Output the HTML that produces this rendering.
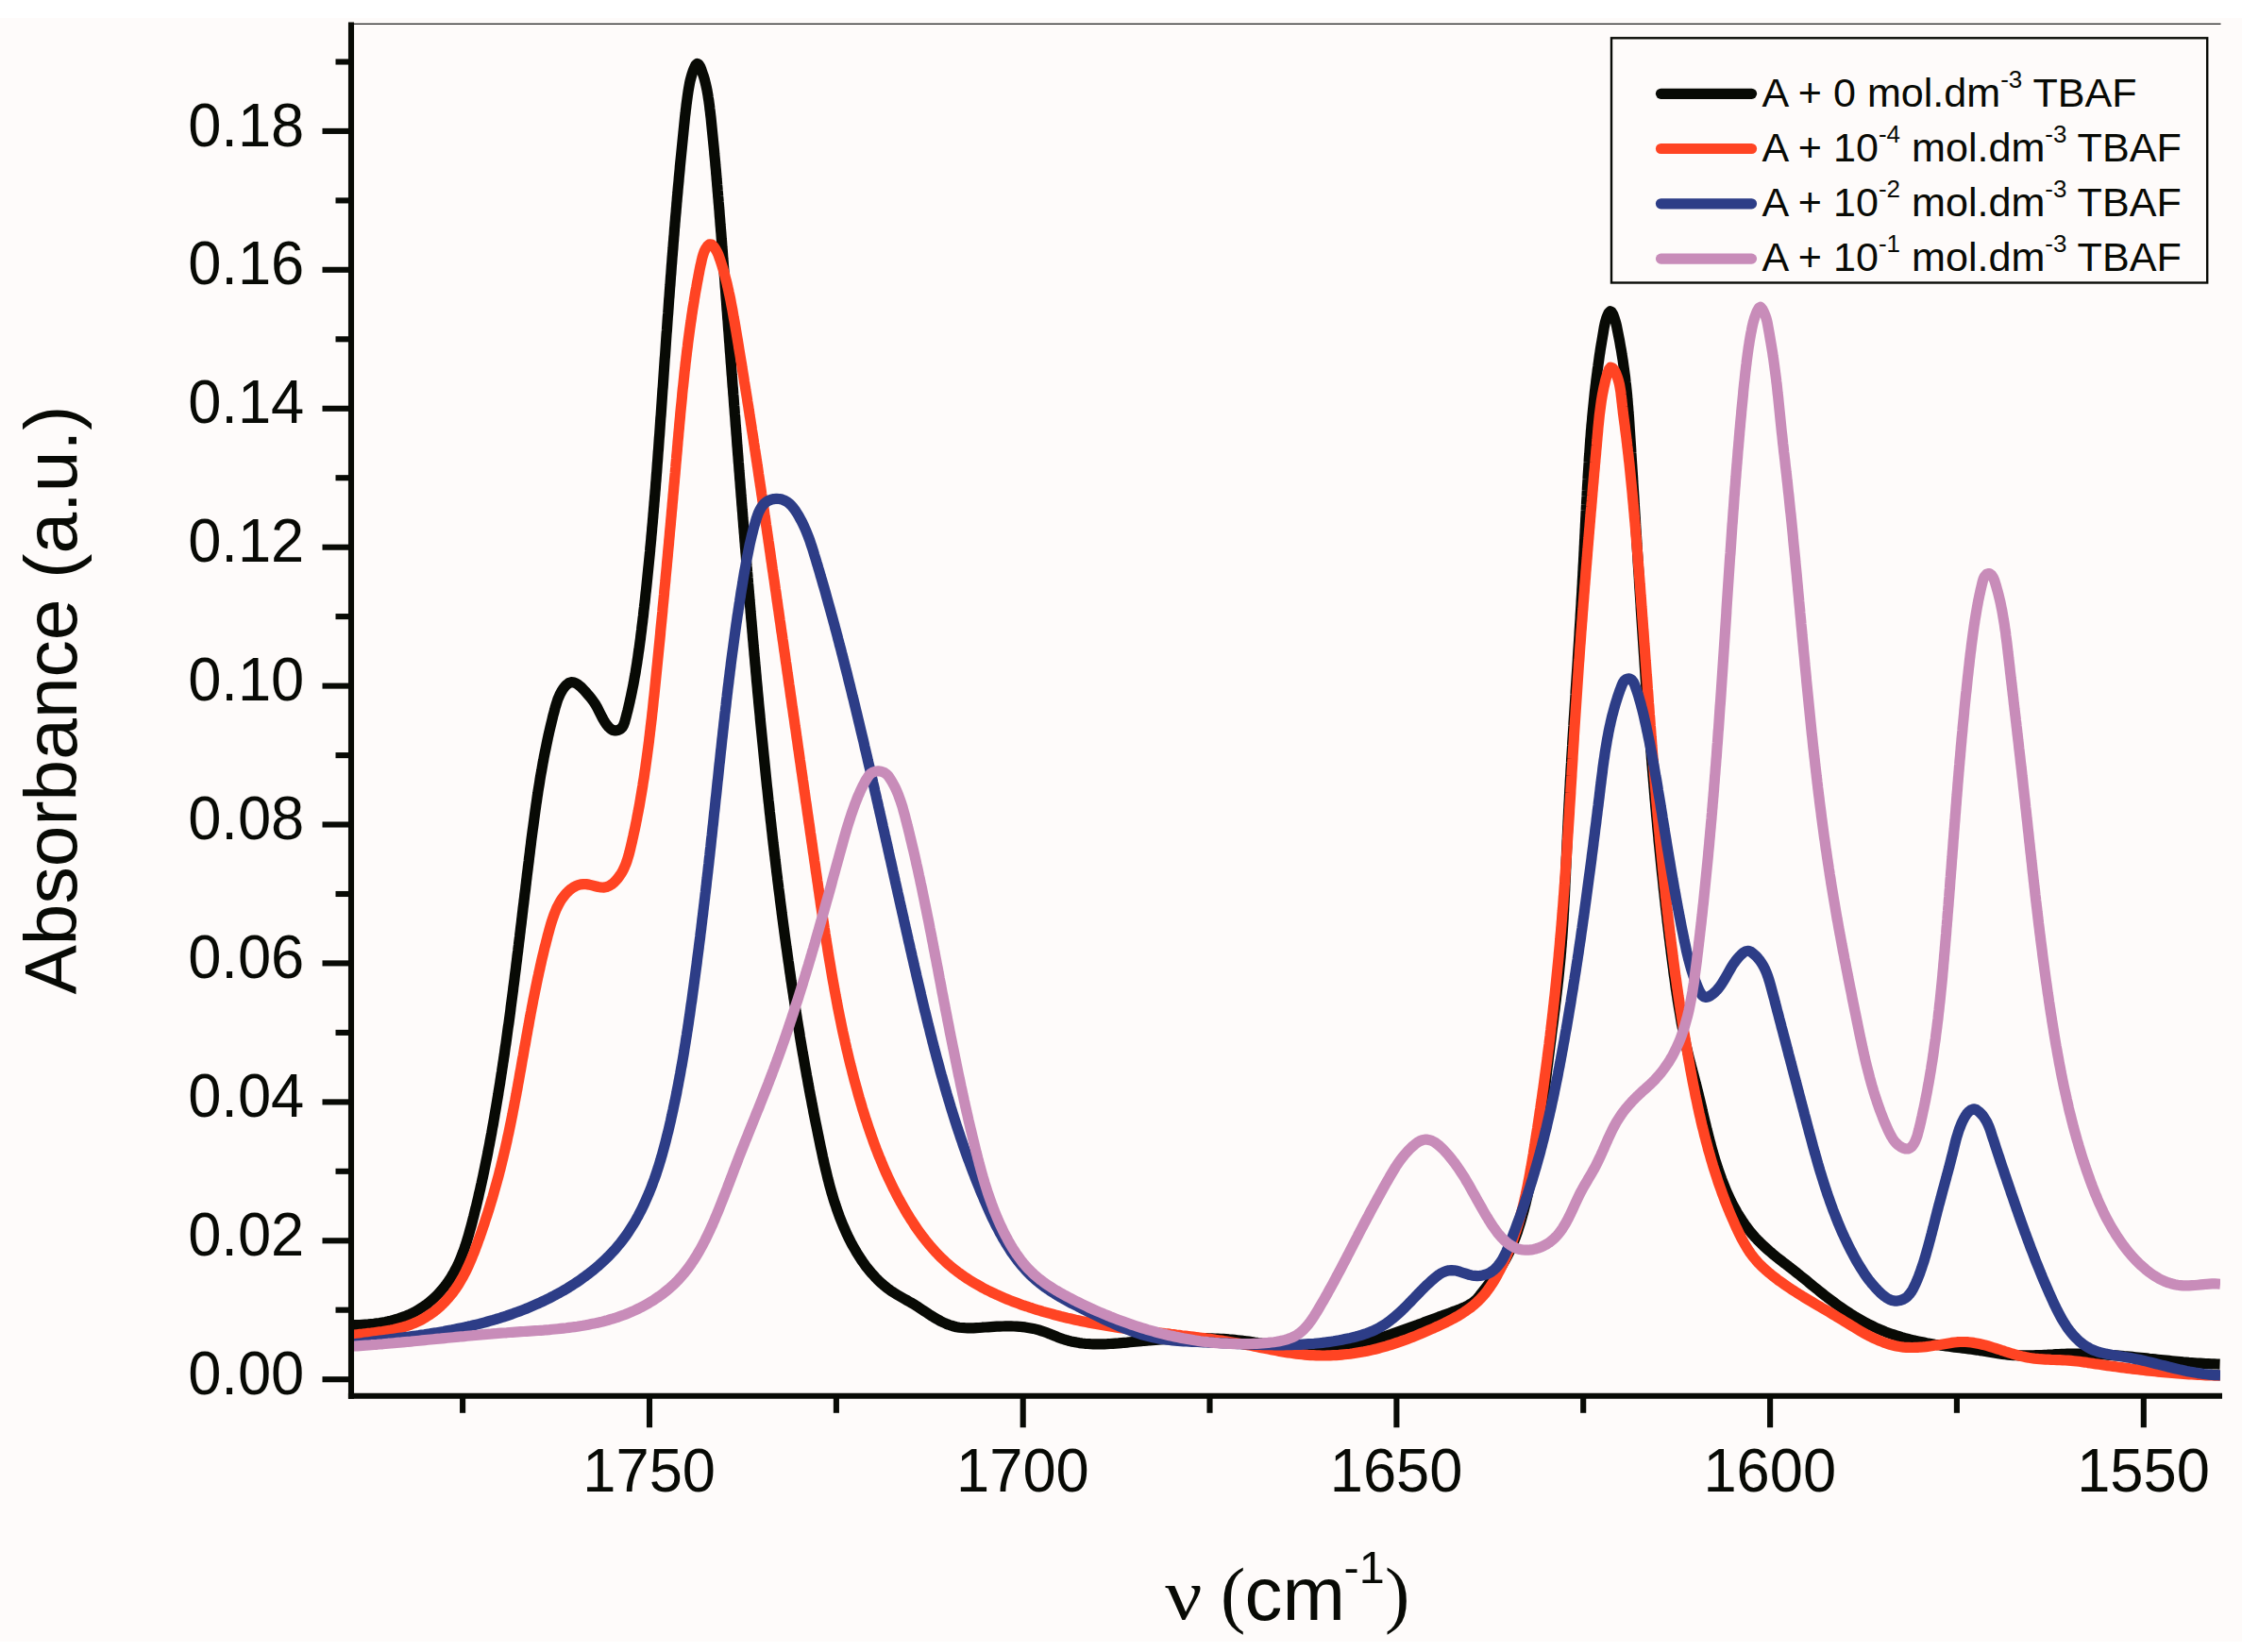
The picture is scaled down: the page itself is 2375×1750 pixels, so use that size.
<!DOCTYPE html>
<html lang="en">
<head>
<meta charset="utf-8">
<title>IR absorbance spectra</title>
<style>
html,body{margin:0;padding:0;background:#ffffff;}
body{width:2375px;height:1750px;overflow:hidden;}
svg{display:block;}
</style>
</head>
<body>
<svg xmlns="http://www.w3.org/2000/svg" width="2375" height="1750" viewBox="0 0 2375 1750">
<rect x="0" y="0" width="2375" height="1750" fill="#ffffff"/>
<rect x="0" y="19" width="2375" height="1720" fill="#fefbfa"/>
<clipPath id="pc"><rect x="372.0" y="20" width="1980.0" height="1460"/></clipPath>
<g clip-path="url(#pc)" fill="none" stroke-width="11.2" stroke-linejoin="round" stroke-linecap="butt">
<path d="M372.3 1403.6L375.2 1403.6L378.2 1403.5L381.1 1403.5L384.1 1403.3L387.1 1403.1L390.1 1402.9L393.1 1402.6L396.1 1402.3L399.1 1401.9L402.1 1401.5L405.1 1400.9L408.1 1400.4L411.1 1399.8L414.1 1399.1L417.0 1398.3L419.9 1397.5L422.8 1396.6L425.7 1395.6L428.5 1394.6L431.3 1393.5L434.1 1392.3L436.8 1391.0L439.5 1389.6L442.1 1388.2L444.7 1386.6L447.2 1385.0L449.6 1383.3L452.1 1381.6L454.4 1379.7L456.7 1377.8L458.9 1375.8L461.1 1373.8L463.3 1371.7L465.3 1369.5L467.3 1367.3L469.2 1365.0L471.1 1362.7L472.9 1360.3L474.6 1357.9L476.3 1355.5L477.9 1353.0L479.4 1350.4L480.9 1347.9L482.3 1345.2L483.7 1342.6L485.0 1339.9L486.2 1337.2L487.4 1334.5L488.5 1331.7L489.6 1328.9L490.7 1326.1L491.7 1323.3L492.7 1320.5L493.6 1317.6L494.6 1314.7L495.4 1311.8L496.3 1308.9L497.1 1306.0L497.9 1303.1L498.7 1300.2L499.5 1297.2L500.3 1294.3L501.0 1291.4L501.8 1288.4L502.5 1285.5L503.2 1282.5L504.0 1279.6L504.7 1276.7L505.4 1273.7L506.1 1270.8L506.8 1267.9L507.4 1264.9L508.1 1262.0L508.8 1259.1L509.4 1256.1L510.1 1253.2L510.7 1250.3L511.4 1247.3L512.0 1244.4L512.6 1241.5L513.2 1238.5L513.8 1235.6L514.4 1232.7L515.0 1229.7L515.6 1226.8L516.2 1223.9L516.8 1220.9L517.3 1218.0L517.9 1215.0L518.5 1212.1L519.0 1209.2L519.6 1206.2L520.1 1203.3L520.7 1200.3L521.2 1197.4L521.7 1194.4L522.3 1191.5L522.8 1188.5L523.3 1185.6L523.8 1182.7L524.3 1179.7L524.8 1176.8L525.3 1173.8L525.8 1170.8L526.3 1167.9L526.8 1164.9L527.3 1162.0L527.8 1159.0L528.2 1156.1L528.7 1153.1L529.2 1150.1L529.7 1147.2L530.1 1144.2L530.6 1141.3L531.0 1138.3L531.5 1135.3L531.9 1132.4L532.4 1129.4L532.8 1126.4L533.3 1123.5L533.7 1120.5L534.2 1117.5L534.6 1114.6L535.0 1111.6L535.4 1108.6L535.9 1105.7L536.3 1102.7L536.7 1099.7L537.1 1096.7L537.5 1093.8L537.9 1090.8L538.3 1087.8L538.8 1084.9L539.2 1081.9L539.6 1078.9L540.0 1075.9L540.4 1072.9L540.8 1070.0L541.1 1067.0L541.5 1064.0L541.9 1061.0L542.3 1058.1L542.7 1055.1L543.1 1052.1L543.5 1049.1L543.8 1046.1L544.2 1043.2L544.6 1040.2L545.0 1037.2L545.3 1034.2L545.7 1031.2L546.1 1028.2L546.5 1025.3L546.8 1022.3L547.2 1019.3L547.6 1016.3L547.9 1013.3L548.3 1010.3L548.7 1007.4L549.0 1004.4L549.4 1001.4L549.7 998.4L550.1 995.4L550.5 992.4L550.8 989.5L551.2 986.5L551.5 983.5L551.9 980.5L552.3 977.5L552.6 974.5L553.0 971.6L553.3 968.6L553.7 965.6L554.0 962.6L554.4 959.6L554.8 956.6L555.1 953.7L555.5 950.7L555.8 947.7L556.2 944.7L556.6 941.7L556.9 938.7L557.3 935.8L557.6 932.8L558.0 929.8L558.3 926.8L558.7 923.8L559.1 920.8L559.4 917.9L559.8 914.9L560.2 911.9L560.5 908.9L560.9 905.9L561.3 903.0L561.6 900.0L562.0 897.0L562.4 894.0L562.7 891.1L563.1 888.1L563.5 885.1L563.9 882.1L564.3 879.1L564.7 876.2L565.1 873.2L565.5 870.2L565.9 867.3L566.3 864.3L566.7 861.3L567.1 858.3L567.5 855.4L567.9 852.4L568.4 849.4L568.8 846.5L569.2 843.5L569.7 840.5L570.1 837.6L570.6 834.6L571.1 831.7L571.6 828.7L572.0 825.7L572.5 822.8L573.0 819.8L573.6 816.9L574.1 813.9L574.6 811.0L575.1 808.0L575.7 805.1L576.2 802.1L576.8 799.2L577.4 796.2L578.0 793.3L578.6 790.4L579.2 787.4L579.8 784.5L580.4 781.6L581.1 778.6L581.7 775.7L582.4 772.8L583.1 769.8L583.8 766.9L584.5 764.0L585.2 761.1L585.9 758.1L586.7 755.2L587.5 752.3L588.2 749.4L589.1 746.5L590.0 743.6L590.9 740.8L592.1 738.0L593.3 735.2L594.8 732.5L596.4 729.9L598.3 727.4L600.4 725.2L602.6 723.6L605.0 722.7L607.4 722.8L609.9 723.7L612.5 725.3L615.0 727.3L617.4 729.7L619.8 732.3L622.0 734.8L624.0 737.2L625.9 739.4L627.6 741.6L629.2 743.9L630.8 746.2L632.2 748.7L633.6 751.4L635.0 754.2L636.4 757.0L637.8 759.8L639.3 762.5L640.9 765.2L642.6 767.7L644.6 770.0L646.7 772.0L649.1 773.5L651.8 774.0L654.7 773.5L657.3 772.2L659.3 770.2L660.7 767.7L661.7 764.9L662.5 761.9L663.3 759.0L664.0 756.1L664.8 753.1L665.5 750.2L666.2 747.2L666.9 744.3L667.5 741.3L668.2 738.4L668.8 735.4L669.4 732.5L670.0 729.5L670.6 726.6L671.2 723.6L671.7 720.7L672.2 717.7L672.8 714.7L673.3 711.8L673.7 708.8L674.2 705.8L674.7 702.9L675.1 699.9L675.6 696.9L676.0 694.0L676.4 691.0L676.9 688.0L677.3 685.1L677.7 682.1L678.1 679.1L678.5 676.2L678.8 673.2L679.2 670.2L679.6 667.2L679.9 664.3L680.3 661.3L680.7 658.3L681.0 655.3L681.4 652.4L681.7 649.4L682.0 646.4L682.4 643.4L682.7 640.4L683.1 637.5L683.4 634.5L683.7 631.5L684.0 628.5L684.4 625.5L684.7 622.5L685.0 619.6L685.3 616.6L685.6 613.6L685.9 610.6L686.2 607.6L686.5 604.6L686.8 601.7L687.1 598.7L687.4 595.7L687.7 592.7L688.0 589.7L688.3 586.7L688.6 583.7L688.8 580.7L689.1 577.8L689.4 574.8L689.7 571.8L689.9 568.8L690.2 565.8L690.5 562.8L690.7 559.8L691.0 556.8L691.3 553.8L691.5 550.8L691.8 547.9L692.0 544.9L692.3 541.9L692.5 538.9L692.8 535.9L693.0 532.9L693.3 529.9L693.5 526.9L693.8 523.9L694.0 520.9L694.3 517.9L694.5 514.9L694.7 511.9L695.0 508.9L695.2 505.9L695.4 503.0L695.7 500.0L695.9 497.0L696.1 494.0L696.3 491.0L696.6 488.0L696.8 485.0L697.0 482.0L697.2 479.0L697.5 476.0L697.7 473.0L697.9 470.0L698.1 467.0L698.3 464.0L698.6 461.0L698.8 458.0L699.0 455.0L699.2 452.0L699.4 449.0L699.6 446.0L699.8 443.0L700.1 440.0L700.3 437.0L700.5 434.1L700.7 431.1L700.9 428.1L701.1 425.1L701.3 422.1L701.5 419.1L701.7 416.1L701.9 413.1L702.2 410.1L702.4 407.1L702.6 404.1L702.8 401.1L703.0 398.1L703.2 395.1L703.4 392.1L703.6 389.1L703.8 386.1L704.0 383.1L704.2 380.1L704.5 377.1L704.7 374.1L704.9 371.2L705.1 368.2L705.3 365.2L705.5 362.2L705.7 359.2L705.9 356.2L706.1 353.2L706.4 350.2L706.6 347.2L706.8 344.2L707.0 341.2L707.2 338.2L707.4 335.2L707.7 332.2L707.9 329.2L708.1 326.3L708.3 323.3L708.5 320.3L708.7 317.3L709.0 314.3L709.2 311.3L709.4 308.3L709.6 305.3L709.9 302.3L710.1 299.3L710.3 296.3L710.5 293.3L710.8 290.3L711.0 287.4L711.2 284.4L711.4 281.4L711.7 278.4L711.9 275.4L712.1 272.4L712.4 269.4L712.6 266.4L712.9 263.4L713.1 260.4L713.3 257.4L713.6 254.4L713.8 251.4L714.1 248.5L714.3 245.5L714.5 242.5L714.8 239.5L715.0 236.5L715.3 233.5L715.5 230.5L715.8 227.5L716.1 224.5L716.3 221.5L716.6 218.5L716.8 215.5L717.1 212.6L717.3 209.6L717.6 206.6L717.9 203.6L718.1 200.6L718.4 197.6L718.7 194.6L719.0 191.6L719.2 188.6L719.5 185.6L719.8 182.6L720.1 179.6L720.3 176.6L720.6 173.6L720.9 170.7L721.2 167.7L721.5 164.7L721.8 161.7L722.1 158.7L722.4 155.7L722.7 152.7L723.0 149.7L723.3 146.7L723.6 143.7L723.9 140.7L724.2 137.7L724.5 134.7L724.8 131.7L725.1 128.8L725.4 125.8L725.7 122.8L726.1 119.8L726.4 116.8L726.8 113.8L727.1 110.9L727.5 107.9L727.9 105.0L728.3 102.1L728.7 99.3L729.1 96.4L729.6 93.6L730.1 90.8L730.6 88.0L731.2 85.2L732.0 82.2L732.9 79.0L734.0 75.6L735.4 72.1L736.9 69.0L738.5 67.4L740.1 68.1L741.7 70.7L743.1 74.2L744.3 77.7L745.4 80.9L746.3 83.9L747.0 86.8L747.7 89.6L748.3 92.3L748.9 95.1L749.4 97.9L749.9 100.7L750.3 103.6L750.8 106.5L751.2 109.4L751.6 112.4L751.9 115.4L752.3 118.3L752.6 121.3L753.0 124.3L753.3 127.3L753.6 130.4L753.9 133.4L754.2 136.4L754.5 139.4L754.8 142.4L755.1 145.4L755.4 148.4L755.7 151.4L756.0 154.4L756.3 157.4L756.6 160.4L756.8 163.3L757.1 166.3L757.4 169.3L757.7 172.3L757.9 175.3L758.2 178.3L758.5 181.3L758.7 184.3L759.0 187.3L759.2 190.3L759.5 193.3L759.7 196.2L760.0 199.2L760.2 202.2L760.5 205.2L760.7 208.2L761.0 211.2L761.2 214.2L761.5 217.2L761.7 220.1L762.0 223.1L762.2 226.1L762.4 229.1L762.7 232.1L762.9 235.1L763.1 238.1L763.4 241.1L763.6 244.1L763.9 247.1L764.1 250.0L764.3 253.0L764.6 256.0L764.8 259.0L765.0 262.0L765.3 265.0L765.5 268.0L765.7 271.0L765.9 274.0L766.2 277.0L766.4 280.0L766.6 283.0L766.9 286.0L767.1 289.0L767.3 292.0L767.6 294.9L767.8 297.9L768.0 300.9L768.2 303.9L768.5 306.9L768.7 309.9L768.9 312.9L769.1 315.9L769.4 318.9L769.6 321.9L769.8 324.9L770.0 327.9L770.3 330.9L770.5 333.9L770.7 336.9L771.0 339.9L771.2 342.9L771.4 345.9L771.6 348.9L771.9 351.9L772.1 354.9L772.3 357.9L772.5 360.9L772.8 363.8L773.0 366.8L773.2 369.8L773.4 372.8L773.7 375.8L773.9 378.8L774.1 381.8L774.3 384.8L774.6 387.8L774.8 390.8L775.0 393.8L775.2 396.8L775.5 399.8L775.7 402.8L775.9 405.8L776.1 408.8L776.4 411.7L776.6 414.7L776.8 417.7L777.1 420.7L777.3 423.7L777.5 426.7L777.7 429.7L778.0 432.7L778.2 435.7L778.4 438.7L778.7 441.7L778.9 444.7L779.1 447.7L779.3 450.7L779.6 453.6L779.8 456.6L780.0 459.6L780.3 462.6L780.5 465.6L780.7 468.6L780.9 471.6L781.2 474.6L781.4 477.6L781.6 480.6L781.9 483.6L782.1 486.6L782.3 489.5L782.6 492.5L782.8 495.5L783.0 498.5L783.3 501.5L783.5 504.5L783.7 507.5L784.0 510.5L784.2 513.5L784.4 516.5L784.7 519.5L784.9 522.4L785.1 525.4L785.4 528.4L785.6 531.4L785.8 534.4L786.1 537.4L786.3 540.4L786.6 543.4L786.8 546.4L787.0 549.4L787.3 552.4L787.5 555.3L787.7 558.3L788.0 561.3L788.2 564.3L788.5 567.3L788.7 570.3L788.9 573.3L789.2 576.3L789.4 579.3L789.7 582.3L789.9 585.3L790.2 588.3L790.4 591.2L790.6 594.2L790.9 597.2L791.1 600.2L791.4 603.2L791.6 606.2L791.9 609.2L792.1 612.2L792.4 615.2L792.6 618.2L792.9 621.2L793.1 624.2L793.4 627.1L793.6 630.1L793.9 633.1L794.1 636.1L794.4 639.1L794.6 642.1L794.9 645.1L795.1 648.1L795.4 651.1L795.6 654.1L795.9 657.1L796.2 660.1L796.4 663.1L796.7 666.0L796.9 669.0L797.2 672.0L797.4 675.0L797.7 678.0L798.0 681.0L798.2 684.0L798.5 687.0L798.8 690.0L799.0 693.0L799.3 696.0L799.6 699.0L799.8 702.0L800.1 704.9L800.4 707.9L800.6 710.9L800.9 713.9L801.2 716.9L801.4 719.9L801.7 722.9L802.0 725.9L802.3 728.9L802.5 731.9L802.8 734.9L803.1 737.9L803.4 740.8L803.6 743.8L803.9 746.8L804.2 749.8L804.5 752.8L804.8 755.8L805.1 758.8L805.3 761.8L805.6 764.8L805.9 767.8L806.2 770.8L806.5 773.7L806.8 776.7L807.1 779.7L807.4 782.7L807.7 785.7L808.0 788.7L808.3 791.7L808.6 794.7L808.9 797.7L809.2 800.7L809.5 803.6L809.8 806.6L810.1 809.6L810.4 812.6L810.7 815.6L811.0 818.6L811.3 821.6L811.6 824.6L811.9 827.5L812.2 830.5L812.5 833.5L812.9 836.5L813.2 839.5L813.5 842.5L813.8 845.5L814.1 848.4L814.5 851.4L814.8 854.4L815.1 857.4L815.4 860.4L815.8 863.4L816.1 866.4L816.4 869.3L816.8 872.3L817.1 875.3L817.4 878.3L817.8 881.3L818.1 884.2L818.4 887.2L818.8 890.2L819.1 893.2L819.5 896.2L819.8 899.2L820.2 902.1L820.5 905.1L820.9 908.1L821.2 911.1L821.6 914.1L821.9 917.0L822.3 920.0L822.6 923.0L823.0 926.0L823.4 928.9L823.7 931.9L824.1 934.9L824.5 937.9L824.8 940.9L825.2 943.8L825.6 946.8L826.0 949.8L826.3 952.8L826.7 955.7L827.1 958.7L827.5 961.7L827.9 964.7L828.2 967.6L828.6 970.6L829.0 973.6L829.4 976.5L829.8 979.5L830.2 982.5L830.6 985.5L831.0 988.4L831.4 991.4L831.8 994.4L832.2 997.3L832.6 1000.3L833.0 1003.3L833.5 1006.2L833.9 1009.2L834.3 1012.2L834.7 1015.1L835.1 1018.1L835.6 1021.1L836.0 1024.0L836.4 1027.0L836.8 1030.0L837.3 1032.9L837.7 1035.9L838.1 1038.9L838.6 1041.8L839.0 1044.8L839.5 1047.8L839.9 1050.7L840.4 1053.7L840.8 1056.7L841.3 1059.6L841.7 1062.6L842.2 1065.5L842.7 1068.5L843.1 1071.5L843.6 1074.4L844.1 1077.4L844.5 1080.4L845.0 1083.3L845.5 1086.3L846.0 1089.2L846.5 1092.2L847.0 1095.2L847.4 1098.1L847.9 1101.1L848.4 1104.0L848.9 1107.0L849.4 1110.0L849.9 1112.9L850.4 1115.9L851.0 1118.8L851.5 1121.8L852.0 1124.7L852.5 1127.7L853.0 1130.7L853.6 1133.6L854.1 1136.6L854.6 1139.5L855.2 1142.5L855.7 1145.4L856.2 1148.4L856.8 1151.4L857.3 1154.3L857.9 1157.3L858.4 1160.2L859.0 1163.2L859.6 1166.1L860.1 1169.1L860.7 1172.0L861.3 1175.0L861.8 1178.0L862.4 1180.9L863.0 1183.9L863.6 1186.8L864.2 1189.8L864.8 1192.7L865.4 1195.7L866.0 1198.6L866.6 1201.6L867.2 1204.5L867.8 1207.5L868.4 1210.4L869.0 1213.4L869.6 1216.3L870.3 1219.3L870.9 1222.2L871.5 1225.2L872.2 1228.1L872.8 1231.1L873.5 1234.0L874.2 1237.0L874.9 1239.9L875.6 1242.8L876.3 1245.7L877.0 1248.7L877.8 1251.6L878.5 1254.5L879.3 1257.4L880.1 1260.3L880.9 1263.2L881.8 1266.0L882.6 1268.9L883.5 1271.8L884.4 1274.6L885.4 1277.4L886.3 1280.3L887.3 1283.1L888.3 1285.9L889.3 1288.7L890.4 1291.5L891.5 1294.3L892.6 1297.0L893.8 1299.8L895.0 1302.5L896.2 1305.2L897.4 1307.9L898.7 1310.6L900.1 1313.3L901.4 1315.9L902.8 1318.6L904.3 1321.2L905.8 1323.8L907.3 1326.4L908.9 1328.9L910.5 1331.5L912.1 1334.0L913.8 1336.5L915.6 1339.0L917.3 1341.4L919.2 1343.8L921.1 1346.1L923.0 1348.4L925.0 1350.6L927.0 1352.8L929.1 1355.0L931.2 1357.1L933.4 1359.1L935.7 1361.1L938.0 1363.0L940.3 1364.8L942.7 1366.6L945.2 1368.3L947.7 1369.9L950.3 1371.5L952.9 1373.0L955.5 1374.5L958.1 1376.0L960.8 1377.5L963.4 1379.0L966.1 1380.5L968.7 1382.1L971.3 1383.7L973.8 1385.4L976.4 1387.1L978.9 1388.7L981.5 1390.4L984.0 1392.1L986.5 1393.7L989.1 1395.3L991.7 1396.8L994.2 1398.3L996.8 1399.7L999.5 1401.0L1002.2 1402.2L1004.9 1403.3L1007.6 1404.2L1010.4 1405.0L1013.2 1405.7L1016.1 1406.2L1019.1 1406.5L1022.1 1406.7L1025.1 1406.8L1028.2 1406.8L1031.2 1406.8L1034.3 1406.6L1037.4 1406.5L1040.5 1406.2L1043.6 1406.0L1046.7 1405.8L1049.8 1405.6L1052.9 1405.4L1056.0 1405.2L1059.0 1405.1L1062.1 1405.0L1065.1 1404.9L1068.1 1404.9L1071.1 1404.9L1074.1 1405.0L1077.0 1405.1L1080.0 1405.3L1082.9 1405.6L1085.9 1405.9L1088.8 1406.4L1091.7 1406.9L1094.6 1407.4L1097.5 1408.1L1100.4 1408.9L1103.2 1409.8L1106.1 1410.8L1108.9 1411.8L1111.8 1412.9L1114.6 1414.1L1117.5 1415.2L1120.3 1416.4L1123.1 1417.4L1126.0 1418.5L1128.9 1419.4L1131.7 1420.2L1134.6 1420.9L1137.5 1421.5L1140.4 1422.1L1143.3 1422.6L1146.3 1423.0L1149.2 1423.3L1152.1 1423.5L1155.1 1423.7L1158.1 1423.8L1161.0 1423.9L1164.0 1423.9L1167.0 1423.9L1169.9 1423.8L1172.9 1423.7L1175.9 1423.5L1178.9 1423.3L1181.9 1423.1L1184.9 1422.9L1187.9 1422.6L1190.9 1422.3L1193.9 1422.1L1196.9 1421.8L1199.9 1421.5L1202.9 1421.2L1205.9 1420.9L1209.0 1420.6L1212.0 1420.3L1215.0 1420.1L1218.0 1419.8L1221.0 1419.6L1224.0 1419.4L1227.0 1419.1L1230.0 1418.9L1233.0 1418.7L1236.0 1418.6L1239.0 1418.4L1242.0 1418.2L1245.0 1418.1L1248.0 1418.0L1250.9 1417.9L1253.9 1417.8L1256.9 1417.7L1259.9 1417.7L1262.9 1417.6L1265.9 1417.6L1268.9 1417.6L1271.9 1417.6L1274.9 1417.6L1277.9 1417.7L1280.9 1417.8L1283.9 1417.9L1286.9 1418.0L1289.9 1418.1L1292.9 1418.3L1295.9 1418.4L1298.9 1418.6L1301.9 1418.9L1304.9 1419.1L1307.9 1419.4L1310.9 1419.7L1313.9 1420.0L1316.9 1420.4L1319.9 1420.7L1322.9 1421.1L1325.9 1421.5L1328.9 1422.0L1331.9 1422.4L1334.9 1422.9L1337.9 1423.3L1340.9 1423.8L1343.9 1424.2L1346.9 1424.7L1349.8 1425.2L1352.8 1425.6L1355.8 1426.0L1358.8 1426.5L1361.8 1426.9L1364.8 1427.3L1367.8 1427.7L1370.8 1428.0L1373.8 1428.3L1376.8 1428.6L1379.8 1428.9L1382.7 1429.1L1385.7 1429.3L1388.7 1429.4L1391.7 1429.5L1394.6 1429.6L1397.6 1429.6L1400.6 1429.5L1403.5 1429.4L1406.5 1429.3L1409.4 1429.1L1412.4 1428.8L1415.3 1428.4L1418.3 1428.1L1421.2 1427.6L1424.2 1427.1L1427.1 1426.6L1430.0 1426.0L1433.0 1425.4L1435.9 1424.7L1438.8 1424.0L1441.7 1423.3L1444.6 1422.5L1447.5 1421.7L1450.4 1420.9L1453.3 1420.1L1456.2 1419.2L1459.0 1418.3L1461.9 1417.4L1464.8 1416.4L1467.6 1415.5L1470.5 1414.5L1473.3 1413.6L1476.1 1412.6L1479.0 1411.6L1481.8 1410.6L1484.6 1409.6L1487.4 1408.6L1490.2 1407.6L1493.0 1406.6L1495.9 1405.5L1498.7 1404.5L1501.5 1403.5L1504.3 1402.4L1507.1 1401.4L1509.9 1400.3L1512.7 1399.3L1515.5 1398.3L1518.4 1397.2L1521.2 1396.2L1524.0 1395.1L1526.9 1394.1L1529.7 1393.0L1532.6 1392.0L1535.5 1391.0L1538.3 1389.9L1541.2 1388.9L1544.1 1387.8L1547.0 1386.7L1549.8 1385.5L1552.5 1384.3L1555.2 1382.9L1557.7 1381.4L1560.1 1379.8L1562.4 1378.0L1564.5 1376.0L1566.5 1373.8L1568.3 1371.4L1570.2 1369.1L1572.0 1366.7L1573.9 1364.3L1575.7 1362.0L1577.6 1359.6L1579.4 1357.2L1581.2 1354.8L1583.0 1352.3L1584.8 1349.9L1586.6 1347.4L1588.3 1344.9L1589.9 1342.4L1591.5 1339.9L1593.0 1337.3L1594.5 1334.7L1595.9 1332.1L1597.3 1329.4L1598.6 1326.7L1599.9 1324.0L1601.1 1321.3L1602.3 1318.6L1603.4 1315.8L1604.5 1313.0L1605.6 1310.2L1606.6 1307.4L1607.6 1304.6L1608.5 1301.7L1609.4 1298.9L1610.3 1296.0L1611.2 1293.1L1612.0 1290.2L1612.8 1287.3L1613.6 1284.4L1614.4 1281.5L1615.1 1278.6L1615.9 1275.7L1616.6 1272.7L1617.3 1269.8L1618.0 1266.9L1618.6 1264.0L1619.3 1261.0L1620.0 1258.1L1620.6 1255.2L1621.2 1252.2L1621.8 1249.3L1622.4 1246.4L1623.0 1243.4L1623.5 1240.5L1624.1 1237.5L1624.6 1234.6L1625.2 1231.6L1625.7 1228.7L1626.2 1225.7L1626.7 1222.8L1627.2 1219.8L1627.7 1216.8L1628.1 1213.9L1628.6 1210.9L1629.1 1207.9L1629.5 1205.0L1630.0 1202.0L1630.4 1199.0L1630.8 1196.1L1631.2 1193.1L1631.7 1190.1L1632.1 1187.2L1632.5 1184.2L1632.9 1181.2L1633.3 1178.2L1633.6 1175.3L1634.0 1172.3L1634.4 1169.3L1634.8 1166.3L1635.2 1163.3L1635.5 1160.4L1635.9 1157.4L1636.3 1154.4L1636.7 1151.4L1637.0 1148.4L1637.4 1145.4L1637.8 1142.5L1638.1 1139.5L1638.5 1136.5L1638.8 1133.5L1639.2 1130.5L1639.6 1127.6L1640.0 1124.6L1640.3 1121.6L1640.7 1118.6L1641.1 1115.6L1641.5 1112.7L1641.8 1109.7L1642.2 1106.7L1642.6 1103.7L1643.0 1100.7L1643.4 1097.8L1643.7 1094.8L1644.1 1091.8L1644.5 1088.8L1644.9 1085.8L1645.3 1082.9L1645.7 1079.9L1646.0 1076.9L1646.4 1073.9L1646.8 1071.0L1647.2 1068.0L1647.5 1065.0L1647.9 1062.0L1648.3 1059.0L1648.6 1056.1L1649.0 1053.1L1649.3 1050.1L1649.7 1047.1L1650.0 1044.1L1650.3 1041.2L1650.7 1038.2L1651.0 1035.2L1651.3 1032.2L1651.6 1029.2L1651.9 1026.2L1652.2 1023.2L1652.5 1020.3L1652.8 1017.3L1653.1 1014.3L1653.3 1011.3L1653.6 1008.3L1653.8 1005.3L1654.1 1002.3L1654.3 999.3L1654.5 996.4L1654.8 993.4L1655.0 990.4L1655.2 987.4L1655.4 984.4L1655.6 981.4L1655.8 978.4L1656.0 975.4L1656.2 972.4L1656.3 969.4L1656.5 966.4L1656.7 963.4L1656.8 960.4L1657.0 957.4L1657.2 954.4L1657.3 951.4L1657.5 948.4L1657.6 945.4L1657.8 942.4L1657.9 939.4L1658.0 936.4L1658.2 933.4L1658.3 930.4L1658.5 927.4L1658.6 924.4L1658.7 921.4L1658.9 918.4L1659.0 915.4L1659.1 912.4L1659.2 909.4L1659.4 906.4L1659.5 903.4L1659.6 900.4L1659.8 897.4L1659.9 894.4L1660.0 891.4L1660.2 888.4L1660.3 885.4L1660.5 882.4L1660.6 879.4L1660.7 876.4L1660.9 873.4L1661.0 870.4L1661.2 867.4L1661.3 864.4L1661.5 861.4L1661.6 858.4L1661.8 855.4L1661.9 852.4L1662.1 849.4L1662.3 846.4L1662.4 843.4L1662.6 840.4L1662.7 837.4L1662.9 834.4L1663.1 831.4L1663.2 828.4L1663.4 825.4L1663.6 822.4L1663.8 819.4L1663.9 816.4L1664.1 813.5L1664.3 810.5L1664.5 807.5L1664.6 804.5L1664.8 801.5L1665.0 798.5L1665.2 795.5L1665.4 792.5L1665.6 789.5L1665.7 786.5L1665.9 783.5L1666.1 780.5L1666.3 777.5L1666.5 774.5L1666.7 771.5L1666.9 768.5L1667.0 765.5L1667.2 762.5L1667.4 759.5L1667.6 756.5L1667.8 753.5L1668.0 750.5L1668.2 747.5L1668.4 744.5L1668.6 741.5L1668.8 738.5L1669.0 735.5L1669.1 732.5L1669.3 729.6L1669.5 726.6L1669.7 723.6L1669.9 720.6L1670.1 717.6L1670.3 714.6L1670.5 711.6L1670.7 708.6L1670.9 705.6L1671.1 702.6L1671.3 699.6L1671.4 696.6L1671.6 693.6L1671.8 690.6L1672.0 687.6L1672.2 684.6L1672.4 681.6L1672.6 678.6L1672.8 675.6L1673.0 672.6L1673.1 669.6L1673.3 666.6L1673.5 663.6L1673.7 660.6L1673.9 657.6L1674.1 654.7L1674.2 651.7L1674.4 648.7L1674.6 645.7L1674.8 642.7L1675.0 639.7L1675.1 636.7L1675.3 633.7L1675.5 630.7L1675.7 627.7L1675.8 624.7L1676.0 621.7L1676.2 618.7L1676.3 615.7L1676.5 612.7L1676.7 609.7L1676.8 606.7L1677.0 603.7L1677.1 600.7L1677.3 597.7L1677.5 594.7L1677.6 591.7L1677.8 588.7L1677.9 585.7L1678.1 582.7L1678.2 579.7L1678.4 576.7L1678.5 573.7L1678.7 570.7L1678.8 567.7L1679.0 564.7L1679.1 561.7L1679.3 558.7L1679.4 555.7L1679.6 552.7L1679.7 549.7L1679.9 546.7L1680.0 543.8L1680.2 540.8L1680.3 537.8L1680.5 534.8L1680.6 531.8L1680.8 528.8L1681.0 525.8L1681.1 522.8L1681.3 519.8L1681.4 516.8L1681.6 513.8L1681.8 510.8L1682.0 507.8L1682.1 504.8L1682.3 501.8L1682.5 498.8L1682.7 495.8L1682.9 492.8L1683.1 489.8L1683.2 486.8L1683.4 483.8L1683.7 480.8L1683.9 477.9L1684.1 474.9L1684.3 471.9L1684.5 468.9L1684.7 465.9L1685.0 462.9L1685.2 459.9L1685.4 456.9L1685.7 453.9L1685.9 450.9L1686.2 448.0L1686.5 445.0L1686.7 442.0L1687.0 439.0L1687.3 436.0L1687.6 433.0L1687.9 430.0L1688.2 427.1L1688.5 424.1L1688.8 421.1L1689.1 418.1L1689.4 415.1L1689.8 412.1L1690.1 409.2L1690.5 406.2L1690.8 403.2L1691.2 400.2L1691.6 397.2L1692.0 394.3L1692.3 391.3L1692.8 388.3L1693.2 385.3L1693.6 382.4L1694.0 379.4L1694.4 376.4L1694.9 373.5L1695.3 370.5L1695.8 367.5L1696.3 364.5L1696.8 361.6L1697.3 358.6L1697.8 355.6L1698.3 352.7L1698.8 349.7L1699.3 346.7L1699.9 343.8L1700.6 340.8L1701.5 337.7L1702.6 334.7L1704.0 331.6L1705.7 329.8L1707.3 330.6L1708.8 333.3L1710.0 336.5L1711.0 339.6L1711.9 342.7L1712.6 345.8L1713.2 348.9L1713.8 351.9L1714.4 354.9L1715.0 357.9L1715.6 360.9L1716.1 363.9L1716.6 366.9L1717.2 369.8L1717.7 372.8L1718.1 375.7L1718.6 378.7L1719.1 381.6L1719.5 384.5L1719.9 387.4L1720.3 390.3L1720.7 393.3L1721.1 396.2L1721.5 399.1L1721.8 402.0L1722.1 404.9L1722.5 407.8L1722.8 410.8L1723.1 413.7L1723.4 416.6L1723.7 419.6L1723.9 422.6L1724.2 425.5L1724.4 428.5L1724.7 431.5L1724.9 434.5L1725.1 437.4L1725.4 440.4L1725.6 443.4L1725.8 446.4L1726.0 449.4L1726.2 452.5L1726.4 455.5L1726.6 458.5L1726.8 461.5L1727.0 464.5L1727.2 467.5L1727.4 470.5L1727.6 473.5L1727.8 476.5L1727.9 479.5L1728.1 482.5L1728.3 485.5L1728.5 488.5L1728.7 491.5L1728.9 494.6L1729.1 497.6L1729.3 500.6L1729.5 503.6L1729.7 506.6L1729.8 509.6L1730.0 512.6L1730.2 515.6L1730.4 518.6L1730.6 521.6L1730.8 524.6L1731.0 527.6L1731.2 530.6L1731.3 533.6L1731.5 536.6L1731.7 539.6L1731.9 542.6L1732.1 545.6L1732.3 548.6L1732.5 551.6L1732.6 554.6L1732.8 557.6L1733.0 560.6L1733.2 563.6L1733.4 566.6L1733.6 569.6L1733.8 572.6L1733.9 575.6L1734.1 578.6L1734.3 581.6L1734.5 584.6L1734.7 587.6L1734.9 590.6L1735.0 593.6L1735.2 596.6L1735.4 599.6L1735.6 602.6L1735.8 605.5L1736.0 608.5L1736.2 611.5L1736.4 614.5L1736.5 617.5L1736.7 620.5L1736.9 623.5L1737.1 626.5L1737.3 629.5L1737.5 632.5L1737.7 635.5L1737.9 638.5L1738.1 641.5L1738.2 644.5L1738.4 647.5L1738.6 650.5L1738.8 653.5L1739.0 656.5L1739.2 659.5L1739.4 662.4L1739.6 665.4L1739.8 668.4L1740.0 671.4L1740.2 674.4L1740.4 677.4L1740.6 680.4L1740.8 683.4L1741.0 686.4L1741.2 689.4L1741.4 692.4L1741.6 695.4L1741.8 698.4L1742.0 701.4L1742.2 704.3L1742.4 707.3L1742.6 710.3L1742.8 713.3L1743.0 716.3L1743.2 719.3L1743.4 722.3L1743.6 725.3L1743.8 728.3L1744.0 731.3L1744.3 734.3L1744.5 737.3L1744.7 740.3L1744.9 743.3L1745.1 746.2L1745.3 749.2L1745.5 752.2L1745.8 755.2L1746.0 758.2L1746.2 761.2L1746.4 764.2L1746.7 767.2L1746.9 770.2L1747.1 773.2L1747.3 776.2L1747.6 779.2L1747.8 782.2L1748.0 785.2L1748.3 788.1L1748.5 791.1L1748.7 794.1L1749.0 797.1L1749.2 800.1L1749.4 803.1L1749.7 806.1L1749.9 809.1L1750.2 812.1L1750.4 815.1L1750.7 818.1L1750.9 821.1L1751.2 824.1L1751.4 827.0L1751.7 830.0L1751.9 833.0L1752.2 836.0L1752.4 839.0L1752.7 842.0L1752.9 845.0L1753.2 848.0L1753.5 851.0L1753.7 854.0L1754.0 857.0L1754.3 860.0L1754.5 862.9L1754.8 865.9L1755.1 868.9L1755.4 871.9L1755.6 874.9L1755.9 877.9L1756.2 880.9L1756.5 883.9L1756.8 886.9L1757.0 889.9L1757.3 892.8L1757.6 895.8L1757.9 898.8L1758.2 901.8L1758.5 904.8L1758.8 907.8L1759.1 910.8L1759.4 913.8L1759.7 916.8L1760.0 919.7L1760.3 922.7L1760.6 925.7L1761.0 928.7L1761.3 931.7L1761.6 934.7L1761.9 937.7L1762.2 940.6L1762.5 943.6L1762.9 946.6L1763.2 949.6L1763.5 952.6L1763.9 955.6L1764.2 958.6L1764.5 961.5L1764.9 964.5L1765.2 967.5L1765.6 970.5L1765.9 973.5L1766.2 976.5L1766.6 979.4L1767.0 982.4L1767.3 985.4L1767.7 988.4L1768.0 991.4L1768.4 994.4L1768.8 997.3L1769.1 1000.3L1769.5 1003.3L1769.9 1006.3L1770.2 1009.3L1770.6 1012.2L1771.0 1015.2L1771.4 1018.2L1771.8 1021.2L1772.2 1024.2L1772.6 1027.1L1772.9 1030.1L1773.3 1033.1L1773.8 1036.1L1774.2 1039.0L1774.6 1042.0L1775.0 1045.0L1775.4 1048.0L1775.9 1050.9L1776.3 1053.9L1776.8 1056.9L1777.2 1059.8L1777.7 1062.8L1778.2 1065.8L1778.7 1068.7L1779.2 1071.7L1779.7 1074.6L1780.2 1077.6L1780.7 1080.5L1781.2 1083.5L1781.8 1086.4L1782.4 1089.4L1782.9 1092.3L1783.5 1095.2L1784.1 1098.2L1784.8 1101.1L1785.4 1104.0L1786.0 1106.9L1786.7 1109.9L1787.4 1112.8L1788.1 1115.7L1788.8 1118.6L1789.5 1121.5L1790.3 1124.4L1791.0 1127.3L1791.8 1130.2L1792.5 1133.1L1793.3 1136.0L1794.1 1138.9L1794.8 1141.8L1795.6 1144.7L1796.3 1147.6L1797.1 1150.5L1797.8 1153.4L1798.5 1156.3L1799.3 1159.3L1800.0 1162.2L1800.7 1165.1L1801.4 1168.0L1802.1 1171.0L1802.8 1173.9L1803.4 1176.8L1804.1 1179.7L1804.8 1182.7L1805.5 1185.6L1806.2 1188.5L1806.9 1191.4L1807.6 1194.4L1808.3 1197.3L1809.1 1200.2L1809.8 1203.1L1810.5 1206.0L1811.3 1208.9L1812.1 1211.8L1812.8 1214.7L1813.6 1217.6L1814.4 1220.5L1815.3 1223.4L1816.1 1226.3L1817.0 1229.1L1817.9 1232.0L1818.8 1234.8L1819.7 1237.7L1820.7 1240.5L1821.7 1243.4L1822.7 1246.2L1823.7 1249.0L1824.8 1251.8L1825.9 1254.6L1827.0 1257.4L1828.1 1260.1L1829.3 1262.9L1830.5 1265.6L1831.8 1268.4L1833.1 1271.1L1834.4 1273.8L1835.8 1276.5L1837.2 1279.1L1838.7 1281.8L1840.1 1284.4L1841.7 1286.9L1843.2 1289.5L1844.9 1292.0L1846.5 1294.5L1848.2 1297.0L1850.0 1299.4L1851.8 1301.8L1853.6 1304.1L1855.5 1306.5L1857.4 1308.7L1859.4 1311.0L1861.5 1313.2L1863.6 1315.3L1865.7 1317.4L1867.9 1319.5L1870.1 1321.5L1872.3 1323.5L1874.6 1325.5L1876.9 1327.4L1879.2 1329.4L1881.6 1331.3L1883.9 1333.2L1886.3 1335.0L1888.7 1336.9L1891.1 1338.7L1893.5 1340.6L1895.9 1342.4L1898.2 1344.3L1900.6 1346.1L1903.0 1348.0L1905.3 1349.8L1907.6 1351.7L1910.0 1353.6L1912.3 1355.4L1914.6 1357.3L1916.8 1359.2L1919.1 1361.1L1921.4 1363.0L1923.8 1364.9L1926.1 1366.7L1928.4 1368.6L1930.8 1370.5L1933.1 1372.3L1935.5 1374.2L1937.9 1376.0L1940.3 1377.8L1942.8 1379.6L1945.2 1381.4L1947.7 1383.2L1950.1 1384.9L1952.6 1386.6L1955.1 1388.3L1957.7 1390.0L1960.2 1391.7L1962.8 1393.3L1965.3 1394.9L1967.9 1396.4L1970.5 1397.9L1973.1 1399.4L1975.8 1400.9L1978.4 1402.3L1981.1 1403.6L1983.8 1404.9L1986.5 1406.2L1989.2 1407.5L1992.0 1408.7L1994.7 1409.8L1997.5 1410.9L2000.3 1411.9L2003.1 1412.9L2006.0 1413.9L2008.8 1414.8L2011.6 1415.7L2014.5 1416.6L2017.4 1417.4L2020.3 1418.1L2023.2 1418.9L2026.1 1419.6L2029.0 1420.3L2031.9 1420.9L2034.9 1421.5L2037.8 1422.1L2040.8 1422.7L2043.7 1423.2L2046.7 1423.7L2049.6 1424.2L2052.6 1424.6L2055.6 1425.1L2058.6 1425.5L2061.5 1425.9L2064.5 1426.3L2067.5 1426.7L2070.5 1427.1L2073.5 1427.4L2076.4 1427.8L2079.4 1428.2L2082.4 1428.5L2085.4 1428.9L2088.4 1429.3L2091.4 1429.7L2094.3 1430.1L2097.3 1430.6L2100.3 1431.0L2103.3 1431.5L2106.2 1432.0L2109.2 1432.5L2112.2 1433.0L2115.1 1433.5L2118.1 1434.0L2121.1 1434.4L2124.0 1434.8L2127.0 1435.1L2130.0 1435.4L2133.0 1435.6L2135.9 1435.7L2138.9 1435.8L2141.9 1435.9L2144.9 1435.9L2147.9 1435.9L2150.9 1435.9L2153.9 1435.8L2156.9 1435.7L2159.9 1435.6L2162.9 1435.5L2165.9 1435.3L2168.9 1435.2L2171.9 1435.0L2174.9 1434.9L2177.9 1434.7L2181.0 1434.6L2184.0 1434.4L2187.0 1434.3L2190.0 1434.2L2193.0 1434.1L2196.0 1434.1L2199.0 1434.0L2202.0 1434.0L2205.0 1434.1L2208.0 1434.1L2211.0 1434.2L2214.0 1434.2L2217.0 1434.4L2220.0 1434.5L2223.0 1434.6L2226.0 1434.8L2229.0 1435.0L2231.9 1435.1L2234.9 1435.4L2237.9 1435.6L2240.9 1435.8L2243.9 1436.0L2246.9 1436.3L2249.9 1436.6L2252.9 1436.8L2255.9 1437.1L2258.9 1437.4L2261.8 1437.7L2264.8 1438.0L2267.8 1438.3L2270.8 1438.6L2273.8 1438.9L2276.8 1439.3L2279.8 1439.6L2282.8 1439.9L2285.7 1440.2L2288.7 1440.5L2291.7 1440.8L2294.7 1441.1L2297.7 1441.4L2300.7 1441.7L2303.7 1442.0L2306.7 1442.3L2309.7 1442.6L2312.7 1442.9L2315.6 1443.1L2318.6 1443.4L2321.6 1443.6L2324.6 1443.8L2327.6 1444.0L2330.6 1444.2L2333.6 1444.4L2336.6 1444.6L2339.6 1444.7L2342.6 1444.8L2345.6 1444.9L2348.6 1445.0L2351.6 1445.1" stroke="#080a05"/>
<path d="M372.3 1414.4L375.2 1414.1L378.2 1413.7L381.2 1413.4L384.2 1413.1L387.2 1412.7L390.1 1412.4L393.1 1412.1L396.1 1411.7L399.1 1411.3L402.1 1410.9L405.1 1410.5L408.1 1410.0L411.1 1409.5L414.0 1409.0L417.0 1408.4L419.9 1407.7L422.8 1407.0L425.7 1406.3L428.6 1405.4L431.4 1404.5L434.2 1403.5L437.0 1402.4L439.8 1401.3L442.5 1400.0L445.2 1398.7L447.8 1397.3L450.4 1395.7L453.0 1394.1L455.5 1392.5L458.0 1390.7L460.4 1388.9L462.8 1387.0L465.1 1385.0L467.3 1383.0L469.5 1380.9L471.6 1378.8L473.6 1376.6L475.6 1374.3L477.5 1372.0L479.4 1369.7L481.1 1367.3L482.8 1364.9L484.5 1362.4L486.1 1359.9L487.6 1357.4L489.1 1354.8L490.6 1352.2L492.0 1349.5L493.3 1346.9L494.6 1344.2L495.9 1341.5L497.1 1338.7L498.3 1336.0L499.5 1333.2L500.6 1330.4L501.8 1327.6L502.9 1324.8L503.9 1321.9L505.0 1319.1L506.0 1316.3L507.0 1313.4L508.1 1310.6L509.1 1307.7L510.1 1304.9L511.0 1302.0L512.0 1299.2L513.0 1296.3L513.9 1293.4L514.8 1290.6L515.8 1287.7L516.7 1284.9L517.6 1282.0L518.5 1279.1L519.4 1276.2L520.2 1273.4L521.1 1270.5L522.0 1267.6L522.8 1264.7L523.6 1261.8L524.4 1259.0L525.2 1256.1L526.0 1253.2L526.8 1250.3L527.6 1247.4L528.4 1244.5L529.1 1241.6L529.9 1238.7L530.6 1235.8L531.3 1232.9L532.0 1230.0L532.7 1227.1L533.4 1224.2L534.1 1221.2L534.8 1218.3L535.5 1215.4L536.1 1212.5L536.8 1209.6L537.4 1206.6L538.0 1203.7L538.7 1200.8L539.3 1197.9L539.9 1194.9L540.5 1192.0L541.1 1189.1L541.7 1186.1L542.3 1183.2L542.9 1180.2L543.4 1177.3L544.0 1174.4L544.6 1171.4L545.1 1168.5L545.7 1165.5L546.2 1162.6L546.8 1159.6L547.3 1156.7L547.9 1153.8L548.4 1150.8L548.9 1147.9L549.5 1144.9L550.0 1141.9L550.5 1139.0L551.0 1136.0L551.6 1133.1L552.1 1130.1L552.6 1127.2L553.1 1124.2L553.6 1121.3L554.2 1118.3L554.7 1115.4L555.2 1112.4L555.7 1109.4L556.3 1106.5L556.8 1103.5L557.3 1100.6L557.8 1097.6L558.4 1094.7L558.9 1091.7L559.4 1088.8L560.0 1085.8L560.5 1082.8L561.0 1079.9L561.6 1076.9L562.1 1074.0L562.7 1071.0L563.2 1068.1L563.8 1065.1L564.4 1062.2L564.9 1059.2L565.5 1056.3L566.1 1053.3L566.7 1050.4L567.3 1047.4L567.9 1044.5L568.5 1041.5L569.1 1038.6L569.7 1035.6L570.4 1032.7L571.0 1029.7L571.7 1026.8L572.3 1023.8L573.0 1020.9L573.6 1018.0L574.3 1015.0L575.0 1012.1L575.7 1009.2L576.4 1006.2L577.1 1003.3L577.9 1000.4L578.6 997.4L579.4 994.5L580.1 991.6L580.9 988.7L581.7 985.7L582.5 982.8L583.3 979.9L584.2 977.0L585.1 974.2L586.1 971.3L587.1 968.5L588.2 965.7L589.3 963.0L590.6 960.3L592.0 957.7L593.4 955.1L595.0 952.6L596.7 950.2L598.6 947.8L600.6 945.6L602.7 943.5L604.9 941.7L607.3 940.0L609.8 938.7L612.4 937.6L615.1 936.9L618.0 936.6L621.0 936.6L624.1 937.1L627.3 937.9L630.5 938.7L633.7 939.5L636.8 940.0L639.9 940.1L642.7 939.5L645.5 938.4L648.0 936.8L650.4 934.9L652.5 932.7L654.5 930.3L656.3 927.9L658.0 925.4L659.5 922.9L660.8 920.2L662.0 917.5L663.1 914.8L664.1 912.0L665.0 909.1L665.9 906.2L666.7 903.3L667.4 900.4L668.1 897.5L668.8 894.5L669.5 891.6L670.1 888.7L670.8 885.7L671.4 882.8L672.1 879.8L672.7 876.9L673.3 874.0L673.9 871.0L674.5 868.1L675.0 865.1L675.6 862.2L676.2 859.2L676.7 856.3L677.3 853.3L677.8 850.3L678.3 847.4L678.8 844.4L679.3 841.5L679.8 838.5L680.3 835.5L680.8 832.6L681.2 829.6L681.7 826.6L682.2 823.7L682.6 820.7L683.0 817.7L683.5 814.8L683.9 811.8L684.3 808.8L684.7 805.9L685.1 802.9L685.5 799.9L685.9 796.9L686.3 794.0L686.7 791.0L687.1 788.0L687.5 785.0L687.8 782.0L688.2 779.1L688.5 776.1L688.9 773.1L689.2 770.1L689.6 767.1L689.9 764.2L690.3 761.2L690.6 758.2L690.9 755.2L691.3 752.2L691.6 749.2L691.9 746.3L692.2 743.3L692.5 740.3L692.9 737.3L693.2 734.3L693.5 731.3L693.8 728.3L694.1 725.4L694.4 722.4L694.7 719.4L695.0 716.4L695.3 713.4L695.6 710.4L695.9 707.4L696.2 704.5L696.5 701.5L696.8 698.5L697.1 695.5L697.4 692.5L697.7 689.5L698.0 686.5L698.3 683.5L698.6 680.5L698.9 677.6L699.2 674.6L699.5 671.6L699.7 668.6L700.0 665.6L700.3 662.6L700.6 659.6L700.9 656.6L701.2 653.7L701.5 650.7L701.8 647.7L702.0 644.7L702.3 641.7L702.6 638.7L702.9 635.7L703.2 632.7L703.5 629.7L703.7 626.8L704.0 623.8L704.3 620.8L704.6 617.8L704.9 614.8L705.1 611.8L705.4 608.8L705.7 605.8L706.0 602.8L706.3 599.8L706.5 596.9L706.8 593.9L707.1 590.9L707.4 587.9L707.6 584.9L707.9 581.9L708.2 578.9L708.5 575.9L708.7 572.9L709.0 570.0L709.3 567.0L709.5 564.0L709.8 561.0L710.1 558.0L710.4 555.0L710.6 552.0L710.9 549.0L711.2 546.0L711.4 543.0L711.7 540.1L712.0 537.1L712.2 534.1L712.5 531.1L712.8 528.1L713.0 525.1L713.3 522.1L713.6 519.1L713.8 516.1L714.1 513.1L714.4 510.2L714.6 507.2L714.9 504.2L715.2 501.2L715.4 498.2L715.7 495.2L715.9 492.2L716.2 489.2L716.5 486.2L716.7 483.2L717.0 480.3L717.3 477.3L717.5 474.3L717.8 471.3L718.0 468.3L718.3 465.3L718.6 462.3L718.8 459.3L719.1 456.3L719.4 453.4L719.6 450.4L719.9 447.4L720.2 444.4L720.5 441.4L720.7 438.4L721.0 435.4L721.3 432.4L721.6 429.4L721.9 426.5L722.2 423.5L722.5 420.5L722.7 417.5L723.0 414.5L723.3 411.5L723.7 408.5L724.0 405.5L724.3 402.6L724.6 399.6L724.9 396.6L725.2 393.6L725.6 390.6L725.9 387.6L726.2 384.6L726.6 381.7L726.9 378.7L727.3 375.7L727.6 372.7L728.0 369.7L728.4 366.7L728.7 363.8L729.1 360.8L729.5 357.8L729.9 354.8L730.3 351.8L730.7 348.8L731.1 345.9L731.5 342.9L732.0 339.9L732.4 336.9L732.8 333.9L733.3 331.0L733.7 328.0L734.2 325.0L734.7 322.1L735.2 319.1L735.6 316.1L736.1 313.2L736.6 310.2L737.1 307.3L737.7 304.3L738.2 301.4L738.7 298.5L739.3 295.6L739.8 292.6L740.4 289.7L740.9 286.8L741.5 283.9L742.1 281.0L742.8 278.1L743.4 275.2L744.1 272.3L745.0 269.4L746.0 266.5L747.4 263.6L749.3 260.8L751.6 258.8L754.0 259.1L756.2 261.4L758.1 264.2L759.6 266.9L760.9 269.7L761.9 272.5L762.9 275.3L763.8 278.1L764.7 280.9L765.6 283.7L766.4 286.6L767.2 289.4L768.0 292.3L768.7 295.2L769.5 298.1L770.2 300.9L770.8 303.8L771.5 306.7L772.1 309.7L772.8 312.6L773.4 315.5L774.0 318.4L774.5 321.4L775.1 324.3L775.7 327.3L776.2 330.2L776.7 333.2L777.2 336.1L777.8 339.1L778.3 342.0L778.8 345.0L779.3 348.0L779.8 350.9L780.3 353.9L780.8 356.9L781.3 359.8L781.8 362.8L782.3 365.8L782.7 368.7L783.2 371.7L783.7 374.7L784.2 377.6L784.7 380.6L785.2 383.6L785.7 386.5L786.1 389.5L786.6 392.5L787.1 395.4L787.6 398.4L788.1 401.4L788.5 404.3L789.0 407.3L789.5 410.3L789.9 413.2L790.4 416.2L790.9 419.2L791.4 422.1L791.8 425.1L792.3 428.1L792.8 431.0L793.2 434.0L793.7 437.0L794.1 440.0L794.6 442.9L795.1 445.9L795.5 448.9L796.0 451.8L796.4 454.8L796.9 457.8L797.4 460.7L797.8 463.7L798.3 466.7L798.7 469.6L799.2 472.6L799.6 475.6L800.1 478.6L800.5 481.5L801.0 484.5L801.4 487.5L801.9 490.4L802.3 493.4L802.8 496.4L803.2 499.3L803.6 502.3L804.1 505.3L804.5 508.3L805.0 511.2L805.4 514.2L805.9 517.2L806.3 520.1L806.7 523.1L807.2 526.1L807.6 529.0L808.1 532.0L808.5 535.0L808.9 538.0L809.4 540.9L809.8 543.9L810.2 546.9L810.7 549.8L811.1 552.8L811.5 555.8L812.0 558.8L812.4 561.7L812.8 564.7L813.3 567.7L813.7 570.6L814.1 573.6L814.6 576.6L815.0 579.6L815.4 582.5L815.9 585.5L816.3 588.5L816.7 591.4L817.1 594.4L817.6 597.4L818.0 600.4L818.4 603.3L818.9 606.3L819.3 609.3L819.7 612.2L820.2 615.2L820.6 618.2L821.0 621.1L821.4 624.1L821.9 627.1L822.3 630.1L822.7 633.0L823.1 636.0L823.6 639.0L824.0 641.9L824.4 644.9L824.9 647.9L825.3 650.9L825.7 653.8L826.1 656.8L826.6 659.8L827.0 662.7L827.4 665.7L827.8 668.7L828.3 671.6L828.7 674.6L829.1 677.6L829.6 680.6L830.0 683.5L830.4 686.5L830.8 689.5L831.3 692.4L831.7 695.4L832.1 698.4L832.5 701.3L833.0 704.3L833.4 707.3L833.8 710.3L834.2 713.2L834.7 716.2L835.1 719.2L835.5 722.1L835.9 725.1L836.4 728.1L836.8 731.0L837.2 734.0L837.6 737.0L838.1 740.0L838.5 742.9L838.9 745.9L839.3 748.9L839.8 751.8L840.2 754.8L840.6 757.8L841.1 760.7L841.5 763.7L841.9 766.7L842.3 769.7L842.8 772.6L843.2 775.6L843.6 778.6L844.0 781.5L844.5 784.5L844.9 787.5L845.3 790.5L845.7 793.4L846.2 796.4L846.6 799.4L847.0 802.3L847.4 805.3L847.9 808.3L848.3 811.2L848.7 814.2L849.1 817.2L849.6 820.2L850.0 823.1L850.4 826.1L850.9 829.1L851.3 832.0L851.7 835.0L852.1 838.0L852.6 841.0L853.0 843.9L853.4 846.9L853.8 849.9L854.3 852.8L854.7 855.8L855.1 858.8L855.5 861.8L856.0 864.7L856.4 867.7L856.8 870.7L857.3 873.6L857.7 876.6L858.1 879.6L858.5 882.6L859.0 885.5L859.4 888.5L859.8 891.5L860.3 894.5L860.7 897.4L861.1 900.4L861.5 903.4L862.0 906.3L862.4 909.3L862.8 912.3L863.3 915.3L863.7 918.2L864.1 921.2L864.5 924.2L865.0 927.2L865.4 930.1L865.8 933.1L866.3 936.1L866.7 939.0L867.1 942.0L867.6 945.0L868.0 948.0L868.4 950.9L868.9 953.9L869.3 956.9L869.7 959.9L870.2 962.8L870.6 965.8L871.1 968.8L871.5 971.8L872.0 974.7L872.4 977.7L872.9 980.7L873.3 983.6L873.8 986.6L874.2 989.6L874.7 992.5L875.1 995.5L875.6 998.5L876.1 1001.4L876.6 1004.4L877.0 1007.4L877.5 1010.3L878.0 1013.3L878.5 1016.3L879.0 1019.2L879.5 1022.2L880.0 1025.2L880.5 1028.1L881.0 1031.1L881.5 1034.0L882.0 1037.0L882.5 1039.9L883.1 1042.9L883.6 1045.8L884.1 1048.8L884.7 1051.8L885.2 1054.7L885.8 1057.7L886.3 1060.6L886.9 1063.5L887.4 1066.5L888.0 1069.4L888.6 1072.4L889.2 1075.3L889.8 1078.3L890.4 1081.2L891.0 1084.1L891.6 1087.1L892.2 1090.0L892.8 1092.9L893.5 1095.9L894.1 1098.8L894.8 1101.7L895.4 1104.7L896.1 1107.6L896.7 1110.5L897.4 1113.4L898.1 1116.3L898.8 1119.3L899.5 1122.2L900.2 1125.1L900.9 1128.0L901.7 1130.9L902.4 1133.8L903.1 1136.7L903.9 1139.6L904.6 1142.5L905.4 1145.4L906.2 1148.3L907.0 1151.2L907.8 1154.1L908.6 1157.0L909.4 1159.9L910.2 1162.8L911.1 1165.7L911.9 1168.5L912.8 1171.4L913.6 1174.3L914.5 1177.2L915.4 1180.0L916.3 1182.9L917.2 1185.8L918.2 1188.6L919.1 1191.5L920.0 1194.3L921.0 1197.2L922.0 1200.0L923.0 1202.9L924.0 1205.7L925.0 1208.5L926.0 1211.3L927.1 1214.2L928.1 1217.0L929.2 1219.8L930.3 1222.6L931.4 1225.4L932.6 1228.1L933.7 1230.9L934.9 1233.7L936.0 1236.5L937.2 1239.2L938.4 1242.0L939.7 1244.7L940.9 1247.4L942.2 1250.2L943.5 1252.9L944.8 1255.6L946.1 1258.3L947.5 1261.0L948.8 1263.6L950.2 1266.3L951.6 1269.0L953.1 1271.6L954.5 1274.3L956.0 1276.9L957.5 1279.5L959.0 1282.1L960.5 1284.7L962.1 1287.3L963.7 1289.9L965.3 1292.4L967.0 1294.9L968.6 1297.5L970.3 1300.0L972.0 1302.4L973.8 1304.9L975.5 1307.3L977.3 1309.7L979.2 1312.1L981.0 1314.5L982.9 1316.8L984.8 1319.1L986.8 1321.4L988.7 1323.6L990.7 1325.8L992.8 1328.0L994.8 1330.1L996.9 1332.2L999.1 1334.3L1001.2 1336.3L1003.4 1338.3L1005.7 1340.3L1008.0 1342.2L1010.3 1344.1L1012.6 1345.9L1015.0 1347.7L1017.4 1349.4L1019.8 1351.2L1022.2 1352.8L1024.7 1354.5L1027.2 1356.1L1029.8 1357.7L1032.3 1359.2L1034.9 1360.7L1037.5 1362.2L1040.1 1363.7L1042.8 1365.1L1045.4 1366.5L1048.1 1367.8L1050.8 1369.1L1053.6 1370.4L1056.3 1371.7L1059.1 1372.9L1061.8 1374.1L1064.6 1375.3L1067.4 1376.5L1070.2 1377.6L1073.0 1378.7L1075.9 1379.8L1078.7 1380.8L1081.6 1381.9L1084.4 1382.9L1087.3 1383.8L1090.2 1384.8L1093.1 1385.7L1096.0 1386.7L1098.8 1387.6L1101.7 1388.4L1104.6 1389.3L1107.5 1390.1L1110.4 1390.9L1113.3 1391.7L1116.2 1392.5L1119.1 1393.3L1122.0 1394.0L1124.9 1394.8L1127.8 1395.5L1130.7 1396.2L1133.6 1396.8L1136.5 1397.5L1139.4 1398.2L1142.3 1398.8L1145.2 1399.4L1148.1 1400.0L1151.0 1400.6L1154.0 1401.2L1156.9 1401.7L1159.8 1402.3L1162.7 1402.8L1165.6 1403.3L1168.6 1403.8L1171.5 1404.3L1174.5 1404.8L1177.4 1405.3L1180.4 1405.7L1183.3 1406.2L1186.3 1406.6L1189.3 1407.0L1192.2 1407.4L1195.2 1407.9L1198.2 1408.2L1201.2 1408.6L1204.2 1409.0L1207.2 1409.4L1210.2 1409.8L1213.1 1410.1L1216.1 1410.5L1219.1 1410.8L1222.1 1411.2L1225.1 1411.5L1228.1 1411.9L1231.1 1412.2L1234.1 1412.6L1237.1 1412.9L1240.1 1413.3L1243.1 1413.6L1246.1 1414.0L1249.1 1414.3L1252.0 1414.7L1255.0 1415.0L1258.0 1415.4L1261.0 1415.7L1263.9 1416.1L1266.9 1416.5L1269.9 1416.9L1272.8 1417.2L1275.8 1417.6L1278.8 1418.0L1281.7 1418.4L1284.7 1418.8L1287.7 1419.3L1290.6 1419.7L1293.6 1420.1L1296.5 1420.6L1299.5 1421.0L1302.4 1421.5L1305.4 1422.0L1308.4 1422.5L1311.3 1423.0L1314.3 1423.5L1317.2 1424.0L1320.2 1424.5L1323.1 1425.1L1326.1 1425.6L1329.0 1426.2L1332.0 1426.8L1334.9 1427.4L1337.9 1428.0L1340.8 1428.5L1343.8 1429.1L1346.7 1429.7L1349.7 1430.3L1352.7 1430.8L1355.6 1431.4L1358.6 1431.9L1361.5 1432.4L1364.5 1432.9L1367.5 1433.3L1370.4 1433.7L1373.4 1434.1L1376.4 1434.5L1379.4 1434.8L1382.4 1435.1L1385.3 1435.4L1388.3 1435.6L1391.3 1435.7L1394.3 1435.9L1397.3 1435.9L1400.3 1436.0L1403.3 1436.0L1406.3 1435.9L1409.3 1435.9L1412.3 1435.7L1415.3 1435.6L1418.3 1435.4L1421.3 1435.1L1424.2 1434.8L1427.2 1434.5L1430.2 1434.2L1433.2 1433.8L1436.1 1433.3L1439.1 1432.8L1442.1 1432.3L1445.0 1431.8L1448.0 1431.2L1450.9 1430.6L1453.8 1429.9L1456.7 1429.2L1459.6 1428.5L1462.5 1427.7L1465.4 1426.9L1468.3 1426.1L1471.2 1425.2L1474.1 1424.3L1476.9 1423.4L1479.8 1422.4L1482.6 1421.4L1485.5 1420.4L1488.3 1419.4L1491.1 1418.4L1494.0 1417.3L1496.8 1416.2L1499.6 1415.1L1502.4 1413.9L1505.1 1412.8L1507.9 1411.6L1510.7 1410.4L1513.5 1409.2L1516.2 1408.0L1519.0 1406.8L1521.7 1405.5L1524.5 1404.3L1527.2 1403.0L1529.9 1401.7L1532.6 1400.4L1535.3 1399.0L1537.9 1397.6L1540.5 1396.2L1543.1 1394.8L1545.7 1393.3L1548.2 1391.7L1550.7 1390.1L1553.1 1388.5L1555.5 1386.8L1557.9 1385.1L1560.2 1383.2L1562.4 1381.4L1564.6 1379.4L1566.7 1377.4L1568.8 1375.3L1570.8 1373.1L1572.7 1370.9L1574.6 1368.5L1576.4 1366.1L1578.1 1363.7L1579.8 1361.2L1581.5 1358.6L1583.1 1356.0L1584.6 1353.4L1586.1 1350.7L1587.5 1348.0L1589.0 1345.3L1590.3 1342.6L1591.7 1339.8L1593.0 1337.1L1594.2 1334.3L1595.5 1331.6L1596.7 1328.8L1597.8 1326.0L1599.0 1323.2L1600.1 1320.4L1601.1 1317.6L1602.2 1314.8L1603.2 1312.0L1604.2 1309.1L1605.1 1306.3L1606.1 1303.5L1607.0 1300.6L1607.9 1297.8L1608.7 1294.9L1609.5 1292.0L1610.4 1289.1L1611.1 1286.3L1611.9 1283.4L1612.7 1280.5L1613.4 1277.6L1614.1 1274.7L1614.8 1271.8L1615.4 1268.9L1616.1 1265.9L1616.7 1263.0L1617.4 1260.1L1618.0 1257.2L1618.6 1254.2L1619.1 1251.3L1619.7 1248.4L1620.3 1245.4L1620.8 1242.5L1621.3 1239.5L1621.9 1236.6L1622.4 1233.6L1622.9 1230.7L1623.4 1227.7L1623.9 1224.8L1624.4 1221.8L1624.8 1218.8L1625.3 1215.9L1625.8 1212.9L1626.2 1210.0L1626.7 1207.0L1627.2 1204.0L1627.6 1201.1L1628.1 1198.1L1628.6 1195.1L1629.0 1192.2L1629.5 1189.2L1629.9 1186.2L1630.4 1183.2L1630.8 1180.3L1631.2 1177.3L1631.7 1174.3L1632.1 1171.4L1632.5 1168.4L1633.0 1165.4L1633.4 1162.4L1633.8 1159.5L1634.2 1156.5L1634.7 1153.5L1635.1 1150.5L1635.5 1147.6L1635.9 1144.6L1636.3 1141.6L1636.7 1138.6L1637.1 1135.7L1637.5 1132.7L1637.9 1129.7L1638.3 1126.7L1638.7 1123.7L1639.1 1120.8L1639.4 1117.8L1639.8 1114.8L1640.2 1111.8L1640.6 1108.8L1641.0 1105.9L1641.3 1102.9L1641.7 1099.9L1642.1 1096.9L1642.4 1093.9L1642.8 1090.9L1643.1 1088.0L1643.5 1085.0L1643.8 1082.0L1644.2 1079.0L1644.5 1076.0L1644.9 1073.0L1645.2 1070.0L1645.5 1067.1L1645.9 1064.1L1646.2 1061.1L1646.5 1058.1L1646.9 1055.1L1647.2 1052.1L1647.5 1049.1L1647.8 1046.1L1648.1 1043.2L1648.4 1040.2L1648.7 1037.2L1649.0 1034.2L1649.3 1031.2L1649.6 1028.2L1649.9 1025.2L1650.2 1022.2L1650.5 1019.3L1650.8 1016.3L1651.1 1013.3L1651.3 1010.3L1651.6 1007.3L1651.9 1004.3L1652.2 1001.3L1652.4 998.3L1652.7 995.3L1652.9 992.4L1653.2 989.4L1653.5 986.4L1653.7 983.4L1654.0 980.4L1654.2 977.4L1654.5 974.4L1654.7 971.4L1654.9 968.4L1655.2 965.4L1655.4 962.5L1655.7 959.5L1655.9 956.5L1656.1 953.5L1656.3 950.5L1656.6 947.5L1656.8 944.5L1657.0 941.5L1657.2 938.5L1657.5 935.5L1657.7 932.6L1657.9 929.6L1658.1 926.6L1658.3 923.6L1658.5 920.6L1658.7 917.6L1658.9 914.6L1659.1 911.6L1659.3 908.6L1659.6 905.6L1659.8 902.6L1660.0 899.6L1660.2 896.7L1660.3 893.7L1660.5 890.7L1660.7 887.7L1660.9 884.7L1661.1 881.7L1661.3 878.7L1661.5 875.7L1661.7 872.7L1661.9 869.7L1662.1 866.7L1662.3 863.7L1662.5 860.7L1662.6 857.7L1662.8 854.7L1663.0 851.8L1663.2 848.8L1663.4 845.8L1663.6 842.8L1663.8 839.8L1663.9 836.8L1664.1 833.8L1664.3 830.8L1664.5 827.8L1664.7 824.8L1664.9 821.8L1665.0 818.8L1665.2 815.8L1665.4 812.8L1665.6 809.8L1665.8 806.8L1666.0 803.8L1666.1 800.8L1666.3 797.8L1666.5 794.8L1666.7 791.8L1666.9 788.8L1667.1 785.8L1667.3 782.9L1667.4 779.9L1667.6 776.9L1667.8 773.9L1668.0 770.9L1668.2 767.9L1668.4 764.9L1668.6 761.9L1668.8 758.9L1669.0 755.9L1669.2 752.9L1669.4 749.9L1669.6 746.9L1669.8 743.9L1670.0 740.9L1670.2 737.9L1670.4 734.9L1670.6 731.9L1670.8 728.9L1671.0 725.9L1671.2 722.9L1671.4 719.9L1671.6 716.9L1671.8 713.9L1672.0 710.9L1672.2 707.9L1672.4 704.9L1672.6 701.9L1672.9 698.9L1673.1 695.9L1673.3 692.9L1673.5 689.9L1673.7 686.9L1673.9 683.9L1674.2 680.9L1674.4 677.9L1674.6 674.9L1674.8 671.9L1675.0 668.9L1675.3 665.9L1675.5 662.9L1675.7 659.9L1676.0 656.9L1676.2 653.9L1676.4 650.9L1676.6 647.9L1676.9 644.9L1677.1 641.9L1677.3 638.9L1677.6 635.9L1677.8 632.9L1678.0 629.9L1678.3 626.9L1678.5 623.9L1678.7 620.9L1679.0 617.9L1679.2 614.9L1679.5 611.9L1679.7 608.9L1679.9 605.9L1680.2 602.9L1680.4 599.9L1680.7 596.9L1680.9 593.9L1681.2 590.9L1681.4 588.0L1681.6 585.0L1681.9 582.0L1682.1 579.0L1682.4 576.0L1682.6 573.0L1682.9 570.0L1683.1 567.0L1683.4 564.0L1683.6 561.0L1683.9 558.1L1684.1 555.1L1684.4 552.1L1684.6 549.1L1684.9 546.1L1685.1 543.1L1685.4 540.2L1685.7 537.2L1685.9 534.2L1686.2 531.2L1686.4 528.2L1686.7 525.2L1686.9 522.3L1687.2 519.3L1687.4 516.3L1687.7 513.3L1688.0 510.4L1688.2 507.4L1688.5 504.4L1688.7 501.4L1689.0 498.5L1689.3 495.5L1689.5 492.5L1689.8 489.5L1690.0 486.6L1690.3 483.6L1690.6 480.6L1690.8 477.7L1691.1 474.7L1691.4 471.7L1691.6 468.8L1691.9 465.8L1692.1 462.9L1692.4 459.9L1692.7 456.9L1692.9 454.0L1693.2 451.0L1693.5 448.1L1693.8 445.1L1694.1 442.1L1694.4 439.2L1694.8 436.2L1695.2 433.2L1695.6 430.3L1696.0 427.3L1696.4 424.3L1696.9 421.3L1697.4 418.3L1698.0 415.4L1698.6 412.4L1699.2 409.4L1699.9 406.4L1700.6 403.3L1701.4 400.3L1702.3 397.3L1703.2 394.3L1704.4 391.4L1706.0 389.2L1708.2 389.9L1710.2 392.3L1711.7 395.3L1712.9 398.4L1713.9 401.3L1714.7 404.1L1715.4 406.8L1715.9 409.6L1716.4 412.4L1716.9 415.4L1717.2 418.4L1717.6 421.4L1717.9 424.5L1718.3 427.6L1718.6 430.6L1719.0 433.7L1719.3 436.7L1719.7 439.7L1720.1 442.7L1720.5 445.7L1720.9 448.7L1721.3 451.6L1721.6 454.6L1722.0 457.6L1722.4 460.6L1722.8 463.5L1723.1 466.5L1723.5 469.5L1723.8 472.4L1724.2 475.4L1724.5 478.4L1724.9 481.4L1725.2 484.4L1725.5 487.3L1725.9 490.3L1726.2 493.3L1726.5 496.3L1726.8 499.3L1727.1 502.2L1727.4 505.2L1727.7 508.2L1728.0 511.2L1728.3 514.2L1728.6 517.2L1728.9 520.2L1729.2 523.1L1729.4 526.1L1729.7 529.1L1730.0 532.1L1730.3 535.1L1730.5 538.1L1730.8 541.1L1731.1 544.1L1731.3 547.1L1731.6 550.1L1731.9 553.0L1732.1 556.0L1732.4 559.0L1732.6 562.0L1732.9 565.0L1733.1 568.0L1733.4 571.0L1733.6 574.0L1733.9 577.0L1734.1 580.0L1734.4 583.0L1734.6 586.0L1734.9 589.0L1735.1 591.9L1735.3 594.9L1735.6 597.9L1735.8 600.9L1736.1 603.9L1736.3 606.9L1736.5 609.9L1736.8 612.9L1737.0 615.9L1737.2 618.9L1737.5 621.9L1737.7 624.9L1737.9 627.9L1738.1 630.9L1738.4 633.9L1738.6 636.9L1738.8 639.9L1739.0 642.9L1739.3 645.8L1739.5 648.8L1739.7 651.8L1739.9 654.8L1740.2 657.8L1740.4 660.8L1740.6 663.8L1740.8 666.8L1741.1 669.8L1741.3 672.8L1741.5 675.8L1741.7 678.8L1741.9 681.8L1742.2 684.8L1742.4 687.8L1742.6 690.8L1742.8 693.8L1743.0 696.8L1743.2 699.8L1743.5 702.8L1743.7 705.8L1743.9 708.8L1744.1 711.8L1744.3 714.8L1744.6 717.7L1744.8 720.7L1745.0 723.7L1745.2 726.7L1745.4 729.7L1745.7 732.7L1745.9 735.7L1746.1 738.7L1746.3 741.7L1746.5 744.7L1746.8 747.7L1747.0 750.7L1747.2 753.7L1747.4 756.7L1747.7 759.7L1747.9 762.7L1748.1 765.7L1748.3 768.7L1748.6 771.7L1748.8 774.7L1749.0 777.6L1749.2 780.6L1749.5 783.6L1749.7 786.6L1749.9 789.6L1750.2 792.6L1750.4 795.6L1750.6 798.6L1750.9 801.6L1751.1 804.6L1751.4 807.6L1751.6 810.6L1751.8 813.6L1752.1 816.6L1752.3 819.6L1752.6 822.5L1752.8 825.5L1753.1 828.5L1753.3 831.5L1753.6 834.5L1753.8 837.5L1754.1 840.5L1754.3 843.5L1754.6 846.5L1754.8 849.5L1755.1 852.5L1755.4 855.4L1755.6 858.4L1755.9 861.4L1756.1 864.4L1756.4 867.4L1756.7 870.4L1757.0 873.4L1757.2 876.4L1757.5 879.3L1757.8 882.3L1758.1 885.3L1758.3 888.3L1758.6 891.3L1758.9 894.3L1759.2 897.3L1759.5 900.3L1759.8 903.2L1760.1 906.2L1760.4 909.2L1760.7 912.2L1761.0 915.2L1761.3 918.2L1761.6 921.2L1761.9 924.1L1762.2 927.1L1762.5 930.1L1762.8 933.1L1763.1 936.1L1763.4 939.1L1763.8 942.0L1764.1 945.0L1764.4 948.0L1764.7 951.0L1765.1 954.0L1765.4 956.9L1765.7 959.9L1766.1 962.9L1766.4 965.9L1766.8 968.9L1767.1 971.9L1767.4 974.8L1767.8 977.8L1768.2 980.8L1768.5 983.8L1768.9 986.7L1769.2 989.7L1769.6 992.7L1770.0 995.7L1770.3 998.7L1770.7 1001.6L1771.1 1004.6L1771.5 1007.6L1771.9 1010.6L1772.2 1013.5L1772.6 1016.5L1773.0 1019.5L1773.4 1022.5L1773.8 1025.4L1774.2 1028.4L1774.6 1031.4L1775.0 1034.4L1775.5 1037.3L1775.9 1040.3L1776.3 1043.3L1776.7 1046.3L1777.2 1049.2L1777.6 1052.2L1778.0 1055.2L1778.5 1058.1L1778.9 1061.1L1779.3 1064.1L1779.8 1067.1L1780.2 1070.0L1780.7 1073.0L1781.2 1076.0L1781.6 1078.9L1782.1 1081.9L1782.6 1084.9L1783.0 1087.8L1783.5 1090.8L1784.0 1093.8L1784.5 1096.7L1785.0 1099.7L1785.5 1102.7L1786.0 1105.6L1786.5 1108.6L1787.0 1111.6L1787.5 1114.5L1788.0 1117.5L1788.5 1120.5L1789.0 1123.4L1789.6 1126.4L1790.1 1129.3L1790.6 1132.3L1791.2 1135.3L1791.7 1138.2L1792.3 1141.2L1792.8 1144.1L1793.4 1147.1L1794.0 1150.1L1794.6 1153.0L1795.2 1156.0L1795.7 1158.9L1796.3 1161.9L1797.0 1164.8L1797.6 1167.7L1798.2 1170.7L1798.8 1173.6L1799.5 1176.6L1800.1 1179.5L1800.8 1182.4L1801.5 1185.3L1802.1 1188.3L1802.8 1191.2L1803.5 1194.1L1804.3 1197.0L1805.0 1199.9L1805.7 1202.9L1806.5 1205.8L1807.2 1208.7L1808.0 1211.6L1808.8 1214.5L1809.5 1217.4L1810.3 1220.2L1811.2 1223.1L1812.0 1226.0L1812.8 1228.9L1813.7 1231.8L1814.5 1234.6L1815.4 1237.5L1816.3 1240.3L1817.2 1243.2L1818.2 1246.0L1819.1 1248.9L1820.0 1251.7L1821.0 1254.6L1822.0 1257.4L1823.0 1260.2L1824.0 1263.0L1825.0 1265.8L1826.1 1268.6L1827.1 1271.4L1828.2 1274.2L1829.3 1277.0L1830.4 1279.8L1831.6 1282.6L1832.7 1285.3L1833.9 1288.1L1835.1 1290.9L1836.3 1293.6L1837.5 1296.4L1838.7 1299.1L1840.0 1301.8L1841.3 1304.5L1842.6 1307.2L1843.9 1309.9L1845.3 1312.6L1846.7 1315.2L1848.2 1317.9L1849.7 1320.4L1851.3 1323.0L1852.9 1325.5L1854.6 1328.0L1856.4 1330.4L1858.3 1332.7L1860.2 1335.0L1862.2 1337.3L1864.3 1339.5L1866.5 1341.6L1868.7 1343.7L1871.0 1345.8L1873.3 1347.8L1875.7 1349.7L1878.1 1351.7L1880.5 1353.5L1882.9 1355.4L1885.3 1357.2L1887.8 1358.9L1890.2 1360.6L1892.7 1362.3L1895.1 1364.0L1897.6 1365.7L1900.1 1367.3L1902.6 1368.9L1905.1 1370.5L1907.6 1372.0L1910.1 1373.6L1912.6 1375.1L1915.1 1376.6L1917.7 1378.1L1920.2 1379.6L1922.8 1381.2L1925.3 1382.7L1927.9 1384.2L1930.4 1385.7L1933.0 1387.2L1935.6 1388.7L1938.2 1390.2L1940.7 1391.8L1943.3 1393.3L1945.9 1394.9L1948.5 1396.5L1951.1 1398.1L1953.7 1399.7L1956.3 1401.3L1959.0 1402.9L1961.6 1404.5L1964.2 1406.1L1966.9 1407.7L1969.5 1409.3L1972.2 1410.8L1974.8 1412.3L1977.5 1413.8L1980.2 1415.2L1982.9 1416.6L1985.6 1417.9L1988.4 1419.1L1991.1 1420.3L1993.9 1421.4L1996.6 1422.5L1999.4 1423.4L2002.2 1424.3L2005.0 1425.0L2007.9 1425.7L2010.7 1426.3L2013.6 1426.7L2016.5 1427.1L2019.4 1427.3L2022.4 1427.4L2025.3 1427.5L2028.3 1427.4L2031.2 1427.3L2034.2 1427.1L2037.2 1426.9L2040.2 1426.6L2043.2 1426.2L2046.2 1425.8L2049.2 1425.3L2052.2 1424.9L2055.2 1424.4L2058.2 1423.9L2061.2 1423.4L2064.2 1422.9L2067.2 1422.4L2070.2 1422.0L2073.2 1421.7L2076.2 1421.5L2079.1 1421.5L2082.1 1421.5L2085.0 1421.7L2088.0 1422.0L2090.9 1422.4L2093.8 1422.9L2096.7 1423.5L2099.7 1424.2L2102.6 1424.9L2105.5 1425.7L2108.4 1426.6L2111.3 1427.5L2114.2 1428.4L2117.1 1429.3L2120.0 1430.3L2122.9 1431.2L2125.8 1432.2L2128.7 1433.1L2131.6 1434.0L2134.5 1434.8L2137.4 1435.7L2140.3 1436.4L2143.3 1437.1L2146.2 1437.7L2149.1 1438.3L2152.1 1438.7L2155.1 1439.1L2158.0 1439.4L2161.0 1439.7L2164.0 1439.9L2166.9 1440.1L2169.9 1440.2L2172.9 1440.4L2175.9 1440.5L2178.9 1440.6L2181.9 1440.7L2184.9 1440.8L2187.9 1441.0L2190.8 1441.2L2193.8 1441.4L2196.8 1441.7L2199.8 1442.0L2202.7 1442.3L2205.7 1442.7L2208.7 1443.1L2211.7 1443.6L2214.6 1444.0L2217.6 1444.4L2220.6 1444.9L2223.5 1445.3L2226.5 1445.7L2229.5 1446.2L2232.4 1446.6L2235.4 1447.0L2238.4 1447.4L2241.4 1447.8L2244.3 1448.2L2247.3 1448.6L2250.3 1449.0L2253.3 1449.4L2256.3 1449.8L2259.2 1450.1L2262.2 1450.5L2265.2 1450.8L2268.2 1451.2L2271.2 1451.5L2274.2 1451.9L2277.1 1452.2L2280.1 1452.5L2283.1 1452.8L2286.1 1453.1L2289.1 1453.4L2292.1 1453.7L2295.1 1454.0L2298.1 1454.2L2301.1 1454.5L2304.0 1454.7L2307.0 1455.0L2310.0 1455.2L2313.0 1455.4L2316.0 1455.6L2319.0 1455.8L2322.0 1456.0L2325.0 1456.2L2328.0 1456.3L2331.0 1456.5L2334.0 1456.6L2337.0 1456.8L2340.0 1456.9L2343.0 1457.0L2346.0 1457.1L2349.0 1457.1L2352.0 1457.2" stroke="#ff4423"/>
<path d="M372.3 1424.3L375.3 1423.8L378.3 1423.4L381.4 1423.0L384.4 1422.6L387.4 1422.1L390.4 1421.7L393.4 1421.3L396.4 1420.9L399.4 1420.5L402.4 1420.1L405.3 1419.7L408.3 1419.4L411.3 1419.0L414.3 1418.6L417.2 1418.2L420.2 1417.8L423.1 1417.4L426.1 1417.0L429.0 1416.6L432.0 1416.2L434.9 1415.8L437.9 1415.4L440.8 1415.0L443.7 1414.6L446.7 1414.1L449.6 1413.7L452.5 1413.2L455.5 1412.8L458.4 1412.3L461.3 1411.9L464.2 1411.4L467.1 1410.9L470.0 1410.4L472.9 1409.8L475.9 1409.3L478.8 1408.8L481.7 1408.2L484.6 1407.6L487.5 1407.0L490.4 1406.4L493.3 1405.8L496.2 1405.1L499.1 1404.5L502.0 1403.8L504.9 1403.1L507.8 1402.4L510.7 1401.6L513.6 1400.8L516.5 1400.0L519.4 1399.2L522.3 1398.4L525.2 1397.5L528.1 1396.7L531.0 1395.7L533.9 1394.8L536.8 1393.9L539.7 1392.9L542.6 1391.9L545.4 1390.8L548.3 1389.8L551.2 1388.7L554.0 1387.6L556.9 1386.5L559.7 1385.3L562.5 1384.1L565.3 1382.9L568.1 1381.7L570.9 1380.5L573.7 1379.2L576.5 1377.9L579.2 1376.5L581.9 1375.2L584.6 1373.8L587.3 1372.4L590.0 1370.9L592.7 1369.5L595.3 1368.0L598.0 1366.5L600.6 1364.9L603.1 1363.4L605.7 1361.7L608.2 1360.1L610.7 1358.5L613.2 1356.8L615.7 1355.1L618.1 1353.3L620.5 1351.6L622.9 1349.8L625.3 1347.9L627.6 1346.1L629.9 1344.2L632.2 1342.3L634.4 1340.4L636.6 1338.4L638.8 1336.4L641.0 1334.4L643.1 1332.3L645.2 1330.2L647.2 1328.1L649.2 1325.9L651.2 1323.8L653.1 1321.6L655.0 1319.3L656.9 1317.1L658.7 1314.8L660.5 1312.4L662.2 1310.1L663.9 1307.7L665.6 1305.3L667.2 1302.8L668.8 1300.3L670.4 1297.8L671.9 1295.3L673.4 1292.8L674.8 1290.2L676.3 1287.6L677.6 1285.0L679.0 1282.3L680.3 1279.7L681.6 1277.0L682.9 1274.3L684.1 1271.6L685.3 1268.8L686.5 1266.1L687.7 1263.3L688.8 1260.5L689.9 1257.7L691.0 1254.9L692.0 1252.0L693.1 1249.2L694.1 1246.3L695.1 1243.5L696.0 1240.6L697.0 1237.7L697.9 1234.8L698.8 1231.9L699.7 1228.9L700.5 1226.0L701.4 1223.1L702.2 1220.1L703.0 1217.2L703.8 1214.2L704.6 1211.3L705.4 1208.3L706.1 1205.3L706.8 1202.4L707.6 1199.4L708.3 1196.4L709.0 1193.5L709.7 1190.5L710.4 1187.5L711.0 1184.6L711.7 1181.6L712.3 1178.6L713.0 1175.7L713.6 1172.7L714.2 1169.8L714.9 1166.8L715.5 1163.9L716.1 1160.9L716.7 1158.0L717.2 1155.0L717.8 1152.0L718.4 1149.1L718.9 1146.1L719.5 1143.2L720.0 1140.3L720.6 1137.3L721.1 1134.4L721.6 1131.4L722.2 1128.5L722.7 1125.5L723.2 1122.6L723.7 1119.6L724.2 1116.7L724.7 1113.7L725.1 1110.8L725.6 1107.8L726.1 1104.9L726.5 1102.0L727.0 1099.0L727.5 1096.1L727.9 1093.1L728.4 1090.2L728.8 1087.2L729.3 1084.3L729.7 1081.3L730.1 1078.4L730.6 1075.4L731.0 1072.5L731.4 1069.5L731.8 1066.6L732.2 1063.6L732.7 1060.7L733.1 1057.7L733.5 1054.8L733.9 1051.8L734.3 1048.8L734.7 1045.9L735.1 1042.9L735.5 1040.0L735.9 1037.0L736.3 1034.0L736.7 1031.1L737.1 1028.1L737.5 1025.1L737.9 1022.2L738.3 1019.2L738.6 1016.2L739.0 1013.3L739.4 1010.3L739.8 1007.3L740.2 1004.3L740.5 1001.4L740.9 998.4L741.3 995.4L741.7 992.4L742.0 989.5L742.4 986.5L742.8 983.5L743.1 980.5L743.5 977.6L743.8 974.6L744.2 971.6L744.6 968.6L744.9 965.6L745.3 962.6L745.6 959.7L746.0 956.7L746.3 953.7L746.7 950.7L747.0 947.7L747.4 944.7L747.7 941.8L748.1 938.8L748.4 935.8L748.7 932.8L749.1 929.8L749.4 926.8L749.8 923.8L750.1 920.8L750.4 917.9L750.8 914.9L751.1 911.9L751.4 908.9L751.8 905.9L752.1 902.9L752.4 899.9L752.8 896.9L753.1 893.9L753.4 890.9L753.7 887.9L754.1 884.9L754.4 882.0L754.7 879.0L755.0 876.0L755.4 873.0L755.7 870.0L756.0 867.0L756.3 864.0L756.6 861.0L757.0 858.0L757.3 855.0L757.6 852.0L757.9 849.0L758.2 846.0L758.6 843.0L758.9 840.1L759.2 837.1L759.5 834.1L759.8 831.1L760.1 828.1L760.5 825.1L760.8 822.1L761.1 819.1L761.4 816.1L761.7 813.1L762.0 810.1L762.4 807.1L762.7 804.2L763.0 801.2L763.3 798.2L763.6 795.2L764.0 792.2L764.3 789.2L764.6 786.2L764.9 783.2L765.3 780.2L765.6 777.2L765.9 774.3L766.3 771.3L766.6 768.3L766.9 765.3L767.3 762.3L767.6 759.3L767.9 756.3L768.3 753.4L768.6 750.4L769.0 747.4L769.3 744.4L769.6 741.4L770.0 738.4L770.3 735.5L770.7 732.5L771.0 729.5L771.4 726.5L771.8 723.6L772.1 720.6L772.5 717.6L772.9 714.6L773.2 711.6L773.6 708.7L774.0 705.7L774.3 702.7L774.7 699.8L775.1 696.8L775.5 693.8L775.9 690.8L776.3 687.9L776.7 684.9L777.1 681.9L777.5 679.0L777.9 676.0L778.3 673.1L778.7 670.1L779.1 667.1L779.5 664.2L779.9 661.2L780.4 658.2L780.8 655.3L781.2 652.3L781.7 649.4L782.1 646.4L782.6 643.5L783.0 640.5L783.5 637.6L783.9 634.6L784.4 631.7L784.8 628.7L785.3 625.8L785.8 622.8L786.3 619.9L786.8 616.9L787.2 614.0L787.7 611.1L788.2 608.1L788.7 605.2L789.3 602.3L789.8 599.3L790.3 596.4L790.8 593.4L791.4 590.5L792.0 587.6L792.6 584.6L793.2 581.7L793.8 578.7L794.4 575.7L795.1 572.8L795.8 569.8L796.5 566.8L797.3 563.8L798.0 560.8L798.8 557.8L799.7 554.7L800.6 551.7L801.5 548.7L802.5 545.7L803.6 542.9L804.9 540.2L806.3 537.7L807.9 535.4L809.8 533.3L811.9 531.6L814.3 530.2L816.9 529.2L819.7 528.6L822.7 528.3L825.6 528.5L828.5 529.1L831.2 530.2L833.8 531.6L836.1 533.4L838.3 535.5L840.3 537.9L842.2 540.4L843.9 543.0L845.6 545.7L847.1 548.5L848.6 551.2L850.0 553.9L851.3 556.7L852.6 559.5L853.8 562.2L854.9 565.0L856.0 567.8L857.1 570.6L858.1 573.4L859.0 576.2L860.0 579.1L860.9 581.9L861.8 584.7L862.6 587.6L863.5 590.4L864.4 593.3L865.2 596.1L866.1 599.0L866.9 601.8L867.8 604.7L868.6 607.5L869.4 610.4L870.3 613.3L871.1 616.1L871.9 619.0L872.8 621.9L873.6 624.7L874.4 627.6L875.2 630.5L876.0 633.4L876.8 636.3L877.6 639.2L878.4 642.1L879.2 644.9L880.0 647.8L880.8 650.7L881.6 653.6L882.4 656.5L883.2 659.4L884.0 662.3L884.7 665.2L885.5 668.1L886.3 671.1L887.1 674.0L887.8 676.9L888.6 679.8L889.3 682.7L890.1 685.6L890.9 688.5L891.6 691.4L892.4 694.3L893.1 697.3L893.9 700.2L894.6 703.1L895.3 706.0L896.1 708.9L896.8 711.8L897.6 714.8L898.3 717.7L899.0 720.6L899.7 723.5L900.5 726.4L901.2 729.4L901.9 732.3L902.6 735.2L903.3 738.1L904.1 741.0L904.8 744.0L905.5 746.9L906.2 749.8L906.9 752.7L907.6 755.6L908.3 758.6L909.0 761.5L909.7 764.4L910.4 767.3L911.1 770.2L911.8 773.2L912.5 776.1L913.2 779.0L913.9 781.9L914.6 784.8L915.3 787.8L915.9 790.7L916.6 793.6L917.3 796.5L918.0 799.5L918.7 802.4L919.3 805.3L920.0 808.2L920.7 811.1L921.4 814.1L922.1 817.0L922.7 819.9L923.4 822.8L924.1 825.7L924.7 828.7L925.4 831.6L926.1 834.5L926.7 837.4L927.4 840.4L928.1 843.3L928.7 846.2L929.4 849.1L930.1 852.1L930.7 855.0L931.4 857.9L932.0 860.8L932.7 863.7L933.4 866.7L934.0 869.6L934.7 872.5L935.3 875.4L936.0 878.4L936.7 881.3L937.3 884.2L938.0 887.1L938.6 890.1L939.3 893.0L939.9 895.9L940.6 898.8L941.2 901.8L941.9 904.7L942.5 907.6L943.2 910.5L943.9 913.5L944.5 916.4L945.2 919.3L945.8 922.2L946.5 925.2L947.1 928.1L947.8 931.0L948.4 933.9L949.1 936.9L949.7 939.8L950.4 942.7L951.0 945.7L951.7 948.6L952.4 951.5L953.0 954.4L953.7 957.4L954.3 960.3L955.0 963.2L955.6 966.1L956.3 969.1L957.0 972.0L957.6 974.9L958.3 977.9L958.9 980.8L959.6 983.7L960.2 986.6L960.9 989.6L961.6 992.5L962.2 995.4L962.9 998.4L963.6 1001.3L964.2 1004.2L964.9 1007.2L965.6 1010.1L966.2 1013.0L966.9 1015.9L967.6 1018.9L968.2 1021.8L968.9 1024.7L969.6 1027.7L970.3 1030.6L970.9 1033.5L971.6 1036.5L972.3 1039.4L973.0 1042.3L973.7 1045.3L974.4 1048.2L975.1 1051.1L975.7 1054.0L976.4 1057.0L977.1 1059.9L977.8 1062.8L978.5 1065.8L979.2 1068.7L979.9 1071.6L980.7 1074.5L981.4 1077.5L982.1 1080.4L982.8 1083.3L983.5 1086.2L984.3 1089.1L985.0 1092.1L985.7 1095.0L986.5 1097.9L987.2 1100.8L987.9 1103.7L988.7 1106.6L989.4 1109.5L990.2 1112.5L991.0 1115.4L991.7 1118.3L992.5 1121.2L993.3 1124.1L994.1 1127.0L994.9 1129.9L995.6 1132.8L996.4 1135.7L997.2 1138.6L998.1 1141.5L998.9 1144.4L999.7 1147.2L1000.5 1150.1L1001.3 1153.0L1002.2 1155.9L1003.0 1158.8L1003.9 1161.7L1004.7 1164.5L1005.6 1167.4L1006.5 1170.3L1007.3 1173.1L1008.2 1176.0L1009.1 1178.9L1010.0 1181.7L1010.9 1184.6L1011.8 1187.5L1012.7 1190.3L1013.6 1193.2L1014.6 1196.0L1015.5 1198.8L1016.5 1201.7L1017.4 1204.5L1018.4 1207.4L1019.4 1210.2L1020.3 1213.0L1021.3 1215.8L1022.3 1218.7L1023.3 1221.5L1024.3 1224.3L1025.3 1227.1L1026.4 1229.9L1027.4 1232.7L1028.5 1235.5L1029.5 1238.3L1030.6 1241.1L1031.7 1243.9L1032.7 1246.7L1033.8 1249.5L1034.9 1252.3L1036.0 1255.0L1037.2 1257.8L1038.3 1260.6L1039.4 1263.3L1040.6 1266.1L1041.8 1268.8L1042.9 1271.6L1044.1 1274.3L1045.3 1277.1L1046.5 1279.8L1047.7 1282.5L1049.0 1285.3L1050.2 1288.0L1051.5 1290.7L1052.8 1293.4L1054.1 1296.1L1055.5 1298.8L1056.9 1301.4L1058.3 1304.1L1059.7 1306.8L1061.2 1309.4L1062.6 1312.0L1064.2 1314.6L1065.7 1317.3L1067.3 1319.8L1069.0 1322.4L1070.6 1325.0L1072.3 1327.5L1074.1 1330.0L1075.9 1332.5L1077.7 1334.9L1079.6 1337.3L1081.5 1339.6L1083.4 1341.9L1085.4 1344.2L1087.4 1346.4L1089.5 1348.6L1091.6 1350.7L1093.7 1352.7L1095.9 1354.7L1098.2 1356.6L1100.5 1358.5L1102.8 1360.3L1105.1 1362.1L1107.5 1363.9L1109.9 1365.5L1112.3 1367.2L1114.8 1368.8L1117.3 1370.4L1119.8 1371.9L1122.4 1373.5L1124.9 1374.9L1127.5 1376.4L1130.1 1377.8L1132.8 1379.3L1135.4 1380.7L1138.1 1382.0L1140.8 1383.4L1143.4 1384.8L1146.1 1386.1L1148.8 1387.5L1151.6 1388.8L1154.3 1390.1L1157.0 1391.5L1159.7 1392.8L1162.5 1394.1L1165.2 1395.5L1168.0 1396.8L1170.7 1398.1L1173.5 1399.4L1176.2 1400.7L1179.0 1401.9L1181.8 1403.2L1184.5 1404.4L1187.3 1405.6L1190.1 1406.7L1192.9 1407.8L1195.7 1408.9L1198.6 1410.0L1201.4 1411.0L1204.2 1412.0L1207.1 1412.9L1209.9 1413.8L1212.8 1414.6L1215.7 1415.4L1218.5 1416.1L1221.4 1416.7L1224.3 1417.3L1227.3 1417.9L1230.2 1418.4L1233.1 1418.8L1236.1 1419.2L1239.0 1419.5L1242.0 1419.9L1244.9 1420.1L1247.9 1420.4L1250.9 1420.6L1253.9 1420.8L1256.9 1421.0L1259.9 1421.1L1262.8 1421.3L1265.8 1421.4L1268.9 1421.5L1271.9 1421.7L1274.9 1421.8L1277.9 1421.9L1280.9 1422.1L1283.9 1422.2L1286.9 1422.4L1289.9 1422.5L1292.9 1422.7L1296.0 1422.8L1299.0 1423.0L1302.0 1423.1L1305.0 1423.3L1308.0 1423.4L1311.1 1423.6L1314.1 1423.7L1317.1 1423.8L1320.1 1424.0L1323.1 1424.1L1326.1 1424.2L1329.2 1424.3L1332.2 1424.4L1335.2 1424.5L1338.2 1424.6L1341.2 1424.7L1344.2 1424.7L1347.2 1424.7L1350.2 1424.8L1353.3 1424.8L1356.3 1424.8L1359.3 1424.8L1362.3 1424.7L1365.3 1424.7L1368.3 1424.6L1371.3 1424.5L1374.2 1424.4L1377.2 1424.3L1380.2 1424.1L1383.2 1423.9L1386.2 1423.7L1389.2 1423.5L1392.1 1423.3L1395.1 1423.0L1398.1 1422.7L1401.0 1422.4L1404.0 1422.0L1406.9 1421.6L1409.9 1421.2L1412.8 1420.8L1415.8 1420.3L1418.7 1419.8L1421.7 1419.2L1424.6 1418.6L1427.5 1418.0L1430.4 1417.4L1433.3 1416.7L1436.2 1416.0L1439.1 1415.2L1442.0 1414.3L1444.8 1413.4L1447.6 1412.5L1450.4 1411.4L1453.2 1410.3L1455.9 1409.1L1458.6 1407.8L1461.3 1406.4L1463.8 1404.9L1466.4 1403.3L1468.9 1401.6L1471.4 1399.8L1473.8 1397.9L1476.2 1396.0L1478.5 1394.0L1480.8 1392.0L1483.1 1390.0L1485.3 1387.9L1487.5 1385.7L1489.6 1383.6L1491.8 1381.4L1493.9 1379.3L1495.9 1377.2L1498.0 1375.0L1500.0 1372.9L1502.0 1370.8L1504.1 1368.7L1506.1 1366.6L1508.2 1364.5L1510.3 1362.4L1512.5 1360.3L1514.7 1358.3L1517.0 1356.2L1519.3 1354.2L1521.7 1352.2L1524.2 1350.4L1526.7 1348.8L1529.4 1347.5L1532.0 1346.5L1534.8 1345.8L1537.6 1345.6L1540.5 1345.8L1543.5 1346.3L1546.5 1347.2L1549.5 1348.2L1552.6 1349.2L1555.7 1350.2L1558.8 1350.9L1561.8 1351.4L1564.9 1351.6L1567.9 1351.4L1570.8 1351.0L1573.6 1350.2L1576.2 1349.2L1578.6 1348.0L1580.9 1346.5L1583.0 1344.8L1585.0 1342.9L1586.8 1340.8L1588.6 1338.5L1590.2 1336.2L1591.8 1333.6L1593.2 1331.0L1594.6 1328.3L1595.9 1325.5L1597.1 1322.6L1598.3 1319.7L1599.5 1316.8L1600.7 1313.8L1601.8 1310.9L1602.9 1308.0L1604.0 1305.1L1605.1 1302.2L1606.2 1299.3L1607.2 1296.5L1608.3 1293.6L1609.3 1290.8L1610.4 1287.9L1611.4 1285.1L1612.4 1282.2L1613.4 1279.4L1614.4 1276.6L1615.3 1273.8L1616.3 1270.9L1617.2 1268.1L1618.2 1265.3L1619.1 1262.5L1620.0 1259.7L1620.9 1256.8L1621.8 1254.0L1622.7 1251.2L1623.6 1248.3L1624.4 1245.5L1625.3 1242.6L1626.1 1239.8L1627.0 1236.9L1627.8 1234.0L1628.6 1231.2L1629.4 1228.3L1630.2 1225.4L1631.0 1222.6L1631.8 1219.7L1632.5 1216.8L1633.3 1213.9L1634.0 1211.0L1634.8 1208.1L1635.5 1205.2L1636.2 1202.3L1636.9 1199.4L1637.7 1196.5L1638.4 1193.6L1639.0 1190.7L1639.7 1187.8L1640.4 1184.8L1641.1 1181.9L1641.7 1179.0L1642.4 1176.1L1643.1 1173.1L1643.7 1170.2L1644.3 1167.3L1645.0 1164.4L1645.6 1161.4L1646.2 1158.5L1646.8 1155.5L1647.4 1152.6L1648.0 1149.6L1648.6 1146.7L1649.2 1143.8L1649.8 1140.8L1650.4 1137.8L1650.9 1134.9L1651.5 1131.9L1652.1 1129.0L1652.6 1126.0L1653.2 1123.1L1653.7 1120.1L1654.3 1117.2L1654.8 1114.2L1655.4 1111.2L1655.9 1108.3L1656.4 1105.3L1657.0 1102.4L1657.5 1099.4L1658.0 1096.4L1658.5 1093.5L1659.1 1090.5L1659.6 1087.5L1660.1 1084.6L1660.6 1081.6L1661.1 1078.6L1661.6 1075.7L1662.1 1072.7L1662.6 1069.7L1663.1 1066.8L1663.6 1063.8L1664.1 1060.8L1664.5 1057.9L1665.0 1054.9L1665.5 1051.9L1666.0 1049.0L1666.5 1046.0L1666.9 1043.0L1667.4 1040.1L1667.9 1037.1L1668.3 1034.1L1668.8 1031.2L1669.3 1028.2L1669.7 1025.2L1670.2 1022.2L1670.6 1019.3L1671.1 1016.3L1671.5 1013.3L1672.0 1010.4L1672.4 1007.4L1672.8 1004.4L1673.3 1001.4L1673.7 998.5L1674.2 995.5L1674.6 992.5L1675.0 989.6L1675.4 986.6L1675.9 983.6L1676.3 980.6L1676.7 977.7L1677.1 974.7L1677.6 971.7L1678.0 968.8L1678.4 965.8L1678.8 962.8L1679.2 959.8L1679.6 956.9L1680.0 953.9L1680.4 950.9L1680.8 948.0L1681.2 945.0L1681.6 942.0L1682.0 939.0L1682.4 936.1L1682.8 933.1L1683.2 930.1L1683.6 927.1L1684.0 924.2L1684.4 921.2L1684.8 918.2L1685.2 915.3L1685.6 912.3L1686.0 909.3L1686.3 906.3L1686.7 903.4L1687.1 900.4L1687.5 897.4L1687.9 894.5L1688.2 891.5L1688.6 888.5L1689.0 885.5L1689.4 882.6L1689.7 879.6L1690.1 876.6L1690.5 873.7L1690.9 870.7L1691.2 867.7L1691.6 864.8L1692.0 861.8L1692.3 858.8L1692.7 855.8L1693.1 852.9L1693.4 849.9L1693.8 846.9L1694.2 844.0L1694.5 841.0L1694.9 838.0L1695.2 835.1L1695.6 832.1L1696.0 829.1L1696.3 826.2L1696.7 823.2L1697.1 820.2L1697.5 817.3L1697.8 814.3L1698.2 811.3L1698.6 808.4L1699.0 805.4L1699.5 802.5L1699.9 799.5L1700.3 796.6L1700.8 793.6L1701.3 790.6L1701.8 787.7L1702.3 784.7L1702.8 781.8L1703.4 778.9L1703.9 775.9L1704.5 773.0L1705.1 770.0L1705.8 767.1L1706.4 764.2L1707.1 761.2L1707.8 758.3L1708.6 755.4L1709.4 752.4L1710.2 749.5L1711.0 746.6L1711.9 743.7L1712.8 740.8L1713.7 737.9L1714.7 735.0L1715.7 732.1L1716.8 729.2L1717.9 726.3L1719.1 723.5L1720.8 721.0L1723.1 719.2L1725.9 718.8L1728.4 720.0L1730.3 722.4L1731.7 725.5L1732.8 728.6L1733.8 731.6L1734.8 734.5L1735.7 737.3L1736.5 740.1L1737.3 742.8L1738.1 745.6L1738.8 748.4L1739.6 751.3L1740.3 754.1L1741.0 757.1L1741.7 760.0L1742.3 763.0L1743.0 765.9L1743.7 768.9L1744.3 771.9L1744.9 774.8L1745.6 777.8L1746.2 780.8L1746.8 783.7L1747.4 786.7L1748.0 789.6L1748.5 792.6L1749.1 795.6L1749.7 798.5L1750.2 801.5L1750.8 804.4L1751.3 807.4L1751.9 810.3L1752.4 813.3L1752.9 816.2L1753.4 819.2L1753.9 822.1L1754.5 825.0L1755.0 828.0L1755.5 830.9L1756.0 833.9L1756.4 836.8L1756.9 839.8L1757.4 842.7L1757.9 845.7L1758.4 848.6L1758.9 851.6L1759.3 854.5L1759.8 857.5L1760.3 860.4L1760.8 863.4L1761.2 866.3L1761.7 869.3L1762.2 872.3L1762.7 875.2L1763.1 878.2L1763.6 881.1L1764.1 884.1L1764.6 887.1L1765.1 890.1L1765.5 893.0L1766.0 896.0L1766.5 899.0L1767.0 901.9L1767.5 904.9L1768.0 907.9L1768.5 910.9L1769.0 913.8L1769.5 916.8L1770.0 919.8L1770.5 922.8L1771.0 925.7L1771.5 928.7L1772.0 931.7L1772.6 934.7L1773.1 937.6L1773.6 940.6L1774.1 943.6L1774.7 946.5L1775.2 949.5L1775.7 952.5L1776.3 955.4L1776.8 958.4L1777.4 961.3L1777.9 964.3L1778.5 967.2L1779.0 970.1L1779.6 973.1L1780.2 976.0L1780.7 978.9L1781.3 981.9L1781.9 984.8L1782.5 987.7L1783.1 990.6L1783.7 993.5L1784.2 996.4L1784.9 999.3L1785.5 1002.2L1786.1 1005.1L1786.7 1008.0L1787.4 1010.8L1788.1 1013.7L1788.8 1016.6L1789.6 1019.5L1790.4 1022.4L1791.2 1025.4L1792.1 1028.3L1793.0 1031.2L1794.0 1034.2L1795.1 1037.1L1796.2 1040.1L1797.4 1043.1L1798.6 1046.2L1800.0 1049.2L1801.5 1051.9L1803.1 1054.2L1804.9 1055.8L1807.0 1056.4L1809.4 1056.0L1811.9 1054.7L1814.3 1053.0L1816.6 1051.0L1818.7 1048.9L1820.6 1046.6L1822.5 1044.1L1824.2 1041.6L1825.8 1039.0L1827.4 1036.3L1829.0 1033.6L1830.5 1030.9L1832.0 1028.2L1833.5 1025.6L1835.0 1023.0L1836.6 1020.6L1838.3 1018.3L1840.1 1016.0L1842.1 1013.7L1844.2 1011.5L1846.7 1009.3L1849.3 1007.7L1852.1 1007.3L1854.8 1008.3L1857.3 1010.2L1859.6 1012.2L1861.7 1014.4L1863.6 1016.7L1865.3 1019.0L1866.9 1021.5L1868.4 1024.1L1869.7 1026.8L1870.9 1029.5L1872.0 1032.3L1873.0 1035.1L1873.9 1038.0L1874.8 1040.9L1875.6 1043.8L1876.4 1046.8L1877.2 1049.7L1878.0 1052.7L1878.8 1055.7L1879.6 1058.6L1880.3 1061.6L1881.1 1064.5L1881.9 1067.4L1882.6 1070.4L1883.4 1073.3L1884.2 1076.2L1884.9 1079.1L1885.7 1082.1L1886.5 1085.0L1887.2 1087.9L1888.0 1090.8L1888.8 1093.7L1889.5 1096.6L1890.3 1099.5L1891.1 1102.4L1891.8 1105.3L1892.6 1108.2L1893.3 1111.1L1894.1 1114.0L1894.8 1116.9L1895.6 1119.8L1896.4 1122.7L1897.1 1125.6L1897.9 1128.5L1898.6 1131.3L1899.4 1134.2L1900.1 1137.1L1900.9 1140.0L1901.7 1142.9L1902.4 1145.8L1903.2 1148.6L1903.9 1151.5L1904.7 1154.4L1905.4 1157.3L1906.2 1160.2L1907.0 1163.1L1907.7 1166.0L1908.5 1168.8L1909.2 1171.7L1910.0 1174.6L1910.8 1177.5L1911.5 1180.4L1912.3 1183.3L1913.1 1186.2L1913.8 1189.1L1914.6 1192.0L1915.4 1194.9L1916.1 1197.8L1916.9 1200.7L1917.7 1203.6L1918.5 1206.5L1919.3 1209.4L1920.0 1212.3L1920.8 1215.2L1921.6 1218.1L1922.4 1221.0L1923.3 1223.9L1924.1 1226.8L1924.9 1229.7L1925.7 1232.6L1926.6 1235.5L1927.4 1238.4L1928.3 1241.3L1929.2 1244.2L1930.1 1247.1L1931.0 1249.9L1931.9 1252.8L1932.8 1255.7L1933.7 1258.5L1934.7 1261.4L1935.6 1264.3L1936.6 1267.1L1937.6 1269.9L1938.6 1272.8L1939.6 1275.6L1940.6 1278.4L1941.6 1281.2L1942.7 1284.0L1943.8 1286.8L1944.9 1289.6L1946.0 1292.4L1947.1 1295.2L1948.3 1298.0L1949.4 1300.7L1950.6 1303.5L1951.8 1306.2L1953.1 1308.9L1954.3 1311.6L1955.6 1314.3L1956.9 1317.0L1958.2 1319.7L1959.5 1322.4L1960.9 1325.0L1962.3 1327.7L1963.7 1330.3L1965.1 1333.0L1966.6 1335.6L1968.1 1338.2L1969.6 1340.7L1971.2 1343.3L1972.8 1345.8L1974.4 1348.3L1976.1 1350.8L1977.8 1353.2L1979.6 1355.7L1981.5 1358.0L1983.4 1360.4L1985.4 1362.7L1987.4 1364.9L1989.5 1367.1L1991.7 1369.3L1994.0 1371.4L1996.4 1373.3L1998.8 1375.0L2001.4 1376.5L2004.1 1377.5L2006.9 1378.1L2009.9 1378.1L2012.9 1377.6L2015.8 1376.5L2018.4 1375.1L2020.7 1373.3L2022.7 1371.1L2024.5 1368.7L2026.1 1366.1L2027.5 1363.4L2028.9 1360.6L2030.1 1357.8L2031.3 1355.0L2032.4 1352.2L2033.5 1349.4L2034.5 1346.5L2035.5 1343.7L2036.4 1340.9L2037.4 1338.0L2038.3 1335.2L2039.1 1332.4L2040.0 1329.5L2040.8 1326.6L2041.6 1323.8L2042.4 1320.9L2043.2 1318.0L2044.0 1315.1L2044.8 1312.2L2045.5 1309.3L2046.3 1306.4L2047.0 1303.5L2047.8 1300.6L2048.5 1297.7L2049.3 1294.8L2050.0 1291.9L2050.7 1289.0L2051.5 1286.1L2052.2 1283.1L2053.0 1280.2L2053.7 1277.3L2054.5 1274.4L2055.3 1271.5L2056.1 1268.6L2056.8 1265.7L2057.6 1262.7L2058.4 1259.8L2059.2 1256.9L2060.0 1254.0L2060.8 1251.1L2061.6 1248.2L2062.3 1245.3L2063.1 1242.4L2063.9 1239.5L2064.7 1236.6L2065.4 1233.7L2066.2 1230.8L2066.9 1227.9L2067.6 1225.1L2068.4 1222.2L2069.1 1219.3L2069.8 1216.4L2070.5 1213.5L2071.2 1210.6L2071.9 1207.8L2072.7 1204.9L2073.6 1202.1L2074.5 1199.2L2075.4 1196.4L2076.5 1193.6L2077.6 1190.8L2078.8 1188.0L2080.2 1185.3L2081.7 1182.6L2083.4 1180.0L2085.5 1177.6L2088.0 1175.7L2090.7 1174.8L2093.5 1175.5L2096.1 1177.4L2098.4 1179.6L2100.5 1181.9L2102.2 1184.4L2103.8 1186.9L2105.2 1189.5L2106.4 1192.2L2107.5 1194.9L2108.5 1197.7L2109.4 1200.4L2110.3 1203.3L2111.2 1206.1L2112.2 1208.9L2113.1 1211.7L2114.0 1214.6L2114.9 1217.4L2115.9 1220.3L2116.8 1223.2L2117.8 1226.0L2118.7 1228.9L2119.7 1231.8L2120.6 1234.6L2121.6 1237.5L2122.6 1240.4L2123.5 1243.2L2124.5 1246.1L2125.5 1249.0L2126.4 1251.8L2127.4 1254.7L2128.4 1257.6L2129.4 1260.4L2130.3 1263.3L2131.3 1266.1L2132.3 1268.9L2133.3 1271.8L2134.2 1274.6L2135.2 1277.4L2136.2 1280.3L2137.2 1283.1L2138.1 1285.9L2139.1 1288.7L2140.1 1291.5L2141.1 1294.3L2142.1 1297.1L2143.1 1299.9L2144.1 1302.7L2145.1 1305.5L2146.2 1308.3L2147.2 1311.1L2148.2 1313.9L2149.3 1316.7L2150.3 1319.5L2151.3 1322.2L2152.4 1325.0L2153.5 1327.8L2154.6 1330.6L2155.6 1333.4L2156.7 1336.2L2157.8 1338.9L2159.0 1341.7L2160.1 1344.5L2161.2 1347.3L2162.4 1350.1L2163.5 1352.9L2164.7 1355.7L2165.9 1358.4L2167.1 1361.2L2168.3 1364.0L2169.5 1366.8L2170.7 1369.6L2172.0 1372.4L2173.2 1375.2L2174.5 1378.0L2175.8 1380.8L2177.1 1383.6L2178.5 1386.4L2179.9 1389.1L2181.3 1391.9L2182.7 1394.5L2184.2 1397.2L2185.7 1399.8L2187.3 1402.3L2188.9 1404.8L2190.6 1407.3L2192.4 1409.7L2194.2 1411.9L2196.1 1414.2L2198.0 1416.3L2200.0 1418.3L2202.1 1420.3L2204.3 1422.1L2206.5 1423.9L2208.8 1425.5L2211.3 1427.0L2213.8 1428.4L2216.4 1429.7L2219.1 1430.8L2221.9 1431.8L2224.8 1432.7L2227.8 1433.4L2230.8 1434.1L2233.9 1434.7L2237.0 1435.3L2240.1 1435.8L2243.2 1436.3L2246.4 1436.8L2249.5 1437.3L2252.5 1437.7L2255.6 1438.3L2258.5 1438.8L2261.5 1439.4L2264.4 1440.0L2267.3 1440.6L2270.1 1441.2L2273.0 1441.9L2275.8 1442.6L2278.6 1443.3L2281.4 1444.0L2284.2 1444.7L2287.0 1445.4L2289.9 1446.1L2292.7 1446.8L2295.6 1447.5L2298.4 1448.3L2301.3 1449.0L2304.3 1449.7L2307.2 1450.4L2310.2 1451.1L2313.2 1451.7L2316.2 1452.4L2319.2 1453.0L2322.2 1453.5L2325.3 1454.1L2328.3 1454.6L2331.3 1455.0L2334.3 1455.5L2337.3 1455.8L2340.3 1456.1L2343.3 1456.4L2346.2 1456.6L2349.1 1456.7L2352.0 1456.8" stroke="#2d3d87"/>
<path d="M372.3 1426.2L375.3 1426.0L378.3 1425.8L381.3 1425.6L384.3 1425.4L387.3 1425.2L390.4 1425.0L393.4 1424.7L396.4 1424.5L399.3 1424.3L402.3 1424.0L405.3 1423.8L408.3 1423.5L411.3 1423.2L414.3 1423.0L417.3 1422.7L420.3 1422.4L423.3 1422.2L426.3 1421.9L429.2 1421.6L432.2 1421.3L435.2 1421.1L438.2 1420.8L441.2 1420.5L444.1 1420.2L447.1 1419.9L450.1 1419.6L453.1 1419.3L456.1 1419.0L459.0 1418.7L462.0 1418.4L465.0 1418.2L468.0 1417.9L470.9 1417.6L473.9 1417.3L476.9 1417.0L479.9 1416.7L482.9 1416.4L485.8 1416.1L488.8 1415.8L491.8 1415.6L494.8 1415.3L497.8 1415.0L500.8 1414.7L503.7 1414.5L506.7 1414.2L509.7 1413.9L512.7 1413.7L515.7 1413.4L518.7 1413.2L521.7 1412.9L524.7 1412.7L527.7 1412.4L530.7 1412.2L533.7 1412.0L536.7 1411.8L539.7 1411.5L542.7 1411.3L545.7 1411.1L548.7 1410.9L551.7 1410.7L554.7 1410.5L557.7 1410.3L560.8 1410.1L563.8 1409.9L566.8 1409.7L569.8 1409.5L572.8 1409.3L575.8 1409.1L578.8 1408.8L581.8 1408.6L584.8 1408.3L587.8 1408.0L590.8 1407.7L593.8 1407.4L596.8 1407.1L599.8 1406.8L602.7 1406.4L605.7 1406.0L608.7 1405.6L611.6 1405.2L614.6 1404.7L617.5 1404.3L620.4 1403.8L623.4 1403.2L626.3 1402.6L629.2 1402.1L632.1 1401.4L635.0 1400.8L637.9 1400.1L640.8 1399.3L643.6 1398.6L646.5 1397.7L649.3 1396.9L652.2 1396.0L655.0 1395.1L657.8 1394.1L660.6 1393.1L663.4 1392.0L666.1 1390.9L668.9 1389.7L671.6 1388.5L674.4 1387.2L677.1 1385.9L679.8 1384.5L682.4 1383.1L685.1 1381.6L687.7 1380.1L690.3 1378.5L692.9 1376.9L695.4 1375.2L697.9 1373.5L700.4 1371.7L702.8 1369.9L705.2 1368.0L707.5 1366.1L709.8 1364.2L712.1 1362.1L714.3 1360.1L716.4 1358.0L718.5 1355.8L720.5 1353.7L722.5 1351.4L724.4 1349.2L726.3 1346.8L728.1 1344.5L729.9 1342.1L731.6 1339.7L733.3 1337.2L734.9 1334.8L736.5 1332.2L738.1 1329.7L739.6 1327.1L741.1 1324.6L742.6 1321.9L744.0 1319.3L745.4 1316.7L746.8 1314.0L748.1 1311.3L749.4 1308.6L750.7 1305.9L752.0 1303.1L753.2 1300.4L754.5 1297.7L755.7 1294.9L756.9 1292.2L758.0 1289.4L759.2 1286.6L760.4 1283.8L761.5 1281.1L762.6 1278.3L763.7 1275.5L764.8 1272.7L765.9 1269.9L767.0 1267.1L768.1 1264.3L769.2 1261.5L770.3 1258.7L771.3 1255.9L772.4 1253.1L773.5 1250.3L774.5 1247.5L775.6 1244.7L776.7 1241.8L777.7 1239.0L778.8 1236.2L779.9 1233.4L781.0 1230.6L782.0 1227.8L783.1 1225.0L784.2 1222.2L785.3 1219.4L786.4 1216.6L787.5 1213.9L788.6 1211.1L789.7 1208.3L790.9 1205.5L792.0 1202.7L793.1 1199.9L794.2 1197.1L795.3 1194.4L796.4 1191.6L797.6 1188.8L798.7 1186.0L799.8 1183.2L800.9 1180.4L802.0 1177.7L803.2 1174.9L804.3 1172.1L805.4 1169.3L806.5 1166.5L807.6 1163.7L808.7 1160.9L809.8 1158.2L810.9 1155.4L812.0 1152.6L813.1 1149.8L814.2 1147.0L815.2 1144.2L816.3 1141.4L817.4 1138.6L818.4 1135.8L819.5 1133.0L820.5 1130.2L821.6 1127.4L822.6 1124.6L823.6 1121.7L824.7 1118.9L825.7 1116.1L826.7 1113.3L827.7 1110.5L828.7 1107.6L829.7 1104.8L830.7 1102.0L831.7 1099.2L832.6 1096.3L833.6 1093.5L834.6 1090.6L835.5 1087.8L836.5 1085.0L837.4 1082.1L838.4 1079.3L839.3 1076.4L840.3 1073.6L841.2 1070.7L842.1 1067.9L843.0 1065.0L843.9 1062.2L844.9 1059.3L845.8 1056.5L846.7 1053.6L847.6 1050.8L848.5 1047.9L849.4 1045.0L850.3 1042.2L851.1 1039.3L852.0 1036.5L852.9 1033.6L853.8 1030.7L854.6 1027.8L855.5 1025.0L856.4 1022.1L857.2 1019.2L858.1 1016.4L858.9 1013.5L859.8 1010.6L860.6 1007.7L861.5 1004.8L862.3 1002.0L863.2 999.1L864.0 996.2L864.8 993.3L865.6 990.4L866.5 987.5L867.3 984.7L868.1 981.8L868.9 978.9L869.8 976.0L870.6 973.1L871.4 970.2L872.2 967.3L873.0 964.4L873.8 961.5L874.6 958.7L875.4 955.8L876.2 952.9L877.1 950.0L877.9 947.1L878.7 944.2L879.5 941.3L880.3 938.4L881.1 935.5L881.8 932.6L882.6 929.7L883.4 926.8L884.2 923.9L885.0 921.0L885.8 918.1L886.6 915.2L887.4 912.3L888.2 909.4L889.0 906.5L889.8 903.6L890.6 900.7L891.4 897.8L892.2 894.9L893.0 892.0L893.8 889.1L894.6 886.3L895.4 883.4L896.3 880.5L897.1 877.6L898.0 874.7L898.9 871.9L899.8 869.0L900.7 866.2L901.6 863.3L902.6 860.5L903.6 857.6L904.6 854.8L905.6 852.0L906.7 849.2L907.8 846.4L908.9 843.6L910.1 840.9L911.3 838.1L912.6 835.4L913.9 832.7L915.3 830.0L916.7 827.3L918.3 824.7L920.0 822.1L921.9 819.9L924.3 818.2L927.2 817.2L930.3 816.8L933.4 817.2L936.3 818.2L938.7 819.8L940.8 821.8L942.5 824.2L944.1 826.7L945.6 829.3L947.0 831.9L948.4 834.6L949.6 837.3L950.8 840.0L951.9 842.8L952.9 845.6L953.9 848.4L954.9 851.3L955.8 854.1L956.6 857.0L957.4 859.9L958.2 862.8L959.0 865.7L959.7 868.7L960.5 871.6L961.2 874.5L962.0 877.4L962.7 880.4L963.4 883.3L964.1 886.2L964.8 889.1L965.5 892.1L966.2 895.0L966.9 897.9L967.6 900.8L968.3 903.8L969.0 906.7L969.6 909.6L970.3 912.6L970.9 915.5L971.6 918.4L972.3 921.4L972.9 924.3L973.5 927.2L974.2 930.2L974.8 933.1L975.4 936.0L976.1 939.0L976.7 941.9L977.3 944.8L977.9 947.8L978.5 950.7L979.1 953.6L979.7 956.6L980.3 959.5L980.9 962.4L981.5 965.4L982.1 968.3L982.7 971.3L983.3 974.2L983.9 977.1L984.5 980.1L985.0 983.0L985.6 986.0L986.2 988.9L986.8 991.8L987.3 994.8L987.9 997.7L988.5 1000.7L989.0 1003.6L989.6 1006.6L990.2 1009.5L990.7 1012.5L991.3 1015.4L991.9 1018.3L992.4 1021.3L993.0 1024.2L993.6 1027.2L994.1 1030.1L994.7 1033.1L995.2 1036.0L995.8 1039.0L996.4 1041.9L996.9 1044.9L997.5 1047.8L998.0 1050.8L998.6 1053.7L999.2 1056.7L999.7 1059.6L1000.3 1062.6L1000.9 1065.5L1001.4 1068.5L1002.0 1071.4L1002.6 1074.4L1003.2 1077.3L1003.7 1080.3L1004.3 1083.2L1004.9 1086.2L1005.5 1089.1L1006.0 1092.1L1006.6 1095.0L1007.2 1098.0L1007.8 1100.9L1008.4 1103.9L1009.0 1106.8L1009.6 1109.8L1010.2 1112.7L1010.8 1115.7L1011.4 1118.6L1012.0 1121.6L1012.6 1124.5L1013.2 1127.5L1013.8 1130.4L1014.4 1133.4L1015.0 1136.3L1015.6 1139.3L1016.3 1142.2L1016.9 1145.1L1017.5 1148.1L1018.1 1151.0L1018.8 1154.0L1019.4 1156.9L1020.0 1159.8L1020.7 1162.8L1021.3 1165.7L1022.0 1168.6L1022.6 1171.6L1023.3 1174.5L1023.9 1177.4L1024.6 1180.3L1025.3 1183.3L1025.9 1186.2L1026.6 1189.1L1027.3 1192.0L1028.0 1195.0L1028.7 1197.9L1029.4 1200.8L1030.1 1203.7L1030.8 1206.6L1031.5 1209.5L1032.2 1212.4L1032.9 1215.3L1033.6 1218.2L1034.3 1221.1L1035.1 1224.0L1035.8 1226.9L1036.6 1229.8L1037.3 1232.7L1038.1 1235.6L1038.9 1238.5L1039.7 1241.4L1040.5 1244.2L1041.3 1247.1L1042.2 1250.0L1043.0 1252.8L1043.9 1255.7L1044.8 1258.5L1045.7 1261.4L1046.6 1264.2L1047.6 1267.0L1048.6 1269.9L1049.6 1272.7L1050.6 1275.5L1051.7 1278.3L1052.7 1281.1L1053.8 1283.9L1055.0 1286.7L1056.1 1289.5L1057.3 1292.3L1058.5 1295.0L1059.8 1297.8L1061.1 1300.5L1062.4 1303.3L1063.7 1306.0L1065.1 1308.7L1066.6 1311.4L1068.0 1314.1L1069.5 1316.8L1071.0 1319.4L1072.6 1322.0L1074.3 1324.6L1075.9 1327.1L1077.6 1329.6L1079.4 1332.1L1081.2 1334.5L1083.0 1336.9L1084.9 1339.2L1086.9 1341.5L1088.9 1343.7L1091.0 1345.8L1093.1 1347.9L1095.2 1349.9L1097.4 1351.8L1099.7 1353.7L1102.0 1355.6L1104.4 1357.3L1106.7 1359.1L1109.2 1360.8L1111.6 1362.4L1114.1 1364.0L1116.6 1365.6L1119.2 1367.2L1121.8 1368.7L1124.4 1370.1L1127.0 1371.6L1129.6 1373.0L1132.2 1374.4L1134.9 1375.8L1137.6 1377.2L1140.3 1378.6L1143.0 1379.9L1145.7 1381.2L1148.4 1382.5L1151.1 1383.8L1153.8 1385.1L1156.6 1386.4L1159.3 1387.6L1162.1 1388.8L1164.8 1390.0L1167.6 1391.2L1170.4 1392.4L1173.2 1393.5L1176.0 1394.7L1178.8 1395.8L1181.6 1396.9L1184.4 1398.0L1187.2 1399.0L1190.1 1400.1L1192.9 1401.1L1195.7 1402.1L1198.6 1403.1L1201.4 1404.0L1204.3 1405.0L1207.1 1405.9L1210.0 1406.8L1212.9 1407.7L1215.7 1408.6L1218.6 1409.4L1221.5 1410.2L1224.4 1411.0L1227.3 1411.8L1230.2 1412.6L1233.1 1413.3L1236.0 1414.0L1238.9 1414.7L1241.8 1415.3L1244.7 1416.0L1247.6 1416.6L1250.6 1417.2L1253.5 1417.8L1256.4 1418.3L1259.4 1418.8L1262.3 1419.3L1265.3 1419.8L1268.2 1420.2L1271.2 1420.7L1274.1 1421.1L1277.1 1421.4L1280.1 1421.8L1283.0 1422.1L1286.0 1422.4L1289.0 1422.6L1292.0 1422.9L1295.0 1423.1L1298.0 1423.2L1301.0 1423.4L1304.0 1423.5L1307.0 1423.6L1310.0 1423.7L1313.0 1423.7L1316.0 1423.7L1319.0 1423.7L1322.1 1423.6L1325.1 1423.5L1328.1 1423.4L1331.2 1423.3L1334.2 1423.1L1337.3 1422.9L1340.3 1422.6L1343.4 1422.4L1346.4 1422.0L1349.5 1421.7L1352.5 1421.3L1355.5 1420.7L1358.4 1420.1L1361.3 1419.4L1364.1 1418.6L1366.8 1417.6L1369.5 1416.5L1372.0 1415.2L1374.5 1413.7L1376.8 1412.1L1379.0 1410.2L1381.2 1408.3L1383.2 1406.1L1385.1 1403.9L1387.0 1401.5L1388.8 1399.1L1390.5 1396.6L1392.2 1394.0L1393.8 1391.4L1395.5 1388.7L1397.0 1386.1L1398.6 1383.4L1400.1 1380.8L1401.7 1378.1L1403.2 1375.5L1404.7 1372.8L1406.2 1370.2L1407.6 1367.5L1409.1 1364.9L1410.5 1362.3L1412.0 1359.6L1413.4 1357.0L1414.8 1354.4L1416.2 1351.7L1417.6 1349.1L1419.0 1346.5L1420.4 1343.8L1421.8 1341.2L1423.1 1338.6L1424.5 1336.0L1425.9 1333.3L1427.2 1330.7L1428.6 1328.1L1430.0 1325.4L1431.3 1322.8L1432.7 1320.1L1434.0 1317.5L1435.4 1314.8L1436.8 1312.2L1438.2 1309.5L1439.5 1306.8L1440.9 1304.2L1442.3 1301.5L1443.7 1298.8L1445.1 1296.1L1446.5 1293.5L1447.9 1290.8L1449.4 1288.1L1450.8 1285.4L1452.2 1282.7L1453.6 1280.1L1455.1 1277.4L1456.5 1274.7L1458.0 1272.1L1459.4 1269.4L1460.9 1266.8L1462.3 1264.1L1463.8 1261.5L1465.2 1258.9L1466.7 1256.3L1468.1 1253.7L1469.6 1251.1L1471.1 1248.6L1472.5 1246.0L1474.0 1243.5L1475.5 1241.0L1477.0 1238.5L1478.5 1236.0L1480.1 1233.6L1481.8 1231.1L1483.5 1228.7L1485.4 1226.3L1487.3 1223.9L1489.3 1221.6L1491.4 1219.2L1493.7 1216.9L1496.1 1214.6L1498.7 1212.4L1501.3 1210.4L1504.0 1208.8L1506.7 1207.7L1509.4 1207.1L1512.0 1207.2L1514.6 1207.7L1517.1 1208.6L1519.6 1209.9L1522.0 1211.6L1524.4 1213.5L1526.7 1215.6L1529.0 1217.8L1531.2 1220.2L1533.3 1222.5L1535.3 1224.9L1537.3 1227.3L1539.1 1229.7L1541.0 1232.1L1542.7 1234.5L1544.5 1237.0L1546.1 1239.4L1547.7 1241.8L1549.3 1244.3L1550.9 1246.7L1552.4 1249.2L1553.8 1251.7L1555.3 1254.2L1556.8 1256.7L1558.2 1259.2L1559.6 1261.8L1561.0 1264.3L1562.5 1266.9L1563.9 1269.4L1565.3 1272.0L1566.8 1274.6L1568.3 1277.3L1569.8 1279.9L1571.3 1282.6L1572.8 1285.2L1574.4 1287.9L1576.1 1290.6L1577.7 1293.3L1579.5 1296.1L1581.3 1298.8L1583.1 1301.4L1585.0 1304.0L1586.9 1306.6L1589.0 1309.0L1591.0 1311.3L1593.2 1313.5L1595.4 1315.5L1597.7 1317.4L1600.1 1319.0L1602.5 1320.5L1605.0 1321.8L1607.6 1322.8L1610.3 1323.5L1613.1 1324.0L1615.9 1324.2L1618.8 1324.2L1621.7 1323.9L1624.6 1323.4L1627.4 1322.7L1630.3 1321.8L1633.1 1320.7L1635.8 1319.4L1638.4 1318.0L1640.9 1316.4L1643.3 1314.6L1645.5 1312.7L1647.7 1310.6L1649.7 1308.5L1651.6 1306.2L1653.4 1303.8L1655.1 1301.4L1656.7 1298.8L1658.3 1296.2L1659.8 1293.5L1661.2 1290.8L1662.6 1288.0L1664.0 1285.2L1665.3 1282.4L1666.6 1279.6L1667.9 1276.7L1669.2 1273.9L1670.5 1271.1L1671.8 1268.3L1673.1 1265.6L1674.5 1262.9L1675.9 1260.3L1677.3 1257.7L1678.8 1255.1L1680.3 1252.6L1681.8 1250.1L1683.2 1247.6L1684.7 1245.1L1686.2 1242.6L1687.6 1240.0L1689.1 1237.5L1690.4 1234.9L1691.8 1232.2L1693.1 1229.5L1694.4 1226.8L1695.7 1224.1L1696.9 1221.3L1698.2 1218.5L1699.4 1215.7L1700.6 1212.8L1701.9 1210.0L1703.1 1207.2L1704.4 1204.4L1705.7 1201.6L1707.0 1198.9L1708.3 1196.1L1709.7 1193.5L1711.2 1190.8L1712.6 1188.2L1714.2 1185.7L1715.8 1183.2L1717.4 1180.8L1719.1 1178.4L1720.9 1176.1L1722.7 1173.8L1724.6 1171.6L1726.5 1169.4L1728.5 1167.2L1730.6 1165.0L1732.7 1162.9L1734.8 1160.8L1737.1 1158.7L1739.3 1156.6L1741.6 1154.6L1743.9 1152.5L1746.2 1150.4L1748.5 1148.3L1750.7 1146.1L1752.9 1144.0L1754.9 1141.7L1756.9 1139.5L1758.9 1137.2L1760.7 1134.9L1762.5 1132.5L1764.2 1130.2L1765.9 1127.7L1767.5 1125.3L1769.1 1122.8L1770.5 1120.3L1772.0 1117.8L1773.3 1115.2L1774.6 1112.6L1775.9 1110.0L1777.1 1107.3L1778.3 1104.7L1779.4 1102.0L1780.5 1099.2L1781.5 1096.5L1782.4 1093.7L1783.4 1091.0L1784.3 1088.2L1785.1 1085.3L1785.9 1082.5L1786.7 1079.6L1787.5 1076.8L1788.2 1073.9L1788.9 1071.0L1789.5 1068.1L1790.1 1065.1L1790.7 1062.2L1791.3 1059.2L1791.8 1056.3L1792.4 1053.3L1792.9 1050.3L1793.3 1047.3L1793.8 1044.3L1794.3 1041.3L1794.7 1038.3L1795.1 1035.3L1795.5 1032.3L1795.9 1029.3L1796.3 1026.3L1796.7 1023.2L1797.1 1020.2L1797.5 1017.2L1797.8 1014.2L1798.2 1011.1L1798.6 1008.1L1798.9 1005.1L1799.3 1002.1L1799.6 999.1L1800.0 996.1L1800.3 993.1L1800.7 990.0L1801.0 987.0L1801.4 984.0L1801.7 981.0L1802.1 978.0L1802.4 975.0L1802.7 972.0L1803.1 969.0L1803.4 966.0L1803.7 963.0L1804.0 960.0L1804.4 957.0L1804.7 954.0L1805.0 951.0L1805.3 948.0L1805.6 945.0L1805.9 942.0L1806.2 939.0L1806.5 936.0L1806.8 933.0L1807.1 930.0L1807.4 927.0L1807.7 924.0L1808.0 921.0L1808.3 918.0L1808.6 915.0L1808.9 912.0L1809.2 909.0L1809.5 906.0L1809.7 903.0L1810.0 900.1L1810.3 897.1L1810.6 894.1L1810.8 891.1L1811.1 888.1L1811.4 885.1L1811.6 882.1L1811.9 879.1L1812.2 876.2L1812.4 873.2L1812.7 870.2L1813.0 867.2L1813.2 864.2L1813.5 861.2L1813.7 858.2L1814.0 855.3L1814.2 852.3L1814.5 849.3L1814.7 846.3L1815.0 843.3L1815.2 840.3L1815.5 837.4L1815.7 834.4L1815.9 831.4L1816.2 828.4L1816.4 825.4L1816.6 822.4L1816.9 819.5L1817.1 816.5L1817.3 813.5L1817.6 810.5L1817.8 807.5L1818.0 804.6L1818.3 801.6L1818.5 798.6L1818.7 795.6L1818.9 792.6L1819.1 789.7L1819.4 786.7L1819.6 783.7L1819.8 780.7L1820.0 777.7L1820.2 774.7L1820.5 771.8L1820.7 768.8L1820.9 765.8L1821.1 762.8L1821.3 759.8L1821.5 756.8L1821.7 753.9L1821.9 750.9L1822.1 747.9L1822.4 744.9L1822.6 741.9L1822.8 738.9L1823.0 736.0L1823.2 733.0L1823.4 730.0L1823.6 727.0L1823.8 724.0L1824.0 721.0L1824.2 718.0L1824.4 715.1L1824.6 712.1L1824.8 709.1L1825.0 706.1L1825.2 703.1L1825.4 700.1L1825.6 697.1L1825.8 694.1L1826.0 691.1L1826.2 688.1L1826.4 685.1L1826.6 682.2L1826.8 679.2L1827.0 676.2L1827.2 673.2L1827.4 670.2L1827.6 667.2L1827.8 664.2L1828.0 661.2L1828.2 658.2L1828.4 655.2L1828.6 652.2L1828.8 649.2L1828.9 646.2L1829.1 643.2L1829.3 640.2L1829.5 637.2L1829.7 634.2L1829.9 631.2L1830.1 628.2L1830.3 625.2L1830.5 622.2L1830.7 619.2L1830.9 616.2L1831.1 613.2L1831.3 610.2L1831.5 607.2L1831.7 604.2L1831.9 601.2L1832.1 598.2L1832.3 595.2L1832.5 592.2L1832.7 589.2L1833.0 586.2L1833.2 583.2L1833.4 580.2L1833.6 577.2L1833.8 574.2L1834.0 571.2L1834.2 568.1L1834.4 565.1L1834.6 562.1L1834.8 559.1L1835.0 556.1L1835.3 553.1L1835.5 550.1L1835.7 547.1L1835.9 544.1L1836.1 541.1L1836.4 538.1L1836.6 535.1L1836.8 532.1L1837.0 529.1L1837.2 526.1L1837.5 523.1L1837.7 520.1L1837.9 517.1L1838.2 514.1L1838.4 511.1L1838.6 508.1L1838.9 505.1L1839.1 502.1L1839.3 499.1L1839.6 496.1L1839.8 493.1L1840.1 490.1L1840.3 487.1L1840.6 484.1L1840.8 481.1L1841.0 478.1L1841.3 475.1L1841.6 472.1L1841.8 469.1L1842.1 466.1L1842.3 463.1L1842.6 460.1L1842.8 457.1L1843.1 454.1L1843.4 451.1L1843.6 448.1L1843.9 445.1L1844.2 442.1L1844.5 439.1L1844.7 436.1L1845.0 433.1L1845.3 430.1L1845.6 427.1L1845.9 424.1L1846.2 421.1L1846.5 418.1L1846.7 415.1L1847.0 412.2L1847.3 409.2L1847.6 406.2L1848.0 403.2L1848.3 400.2L1848.6 397.2L1848.9 394.3L1849.3 391.3L1849.6 388.3L1850.0 385.4L1850.3 382.4L1850.7 379.5L1851.1 376.5L1851.5 373.6L1851.9 370.7L1852.3 367.8L1852.8 364.9L1853.2 362.0L1853.7 359.1L1854.2 356.3L1854.7 353.4L1855.3 350.6L1855.8 347.8L1856.4 345.0L1857.1 342.1L1857.9 339.2L1858.8 336.1L1860.0 332.9L1861.4 329.4L1863.1 326.4L1864.9 325.3L1866.7 327.1L1868.4 330.4L1869.8 333.7L1870.9 336.8L1871.7 339.7L1872.3 342.5L1872.8 345.2L1873.3 348.0L1873.8 350.8L1874.3 353.6L1874.8 356.5L1875.3 359.5L1875.8 362.4L1876.3 365.4L1876.8 368.4L1877.3 371.4L1877.8 374.4L1878.2 377.4L1878.7 380.4L1879.1 383.4L1879.5 386.4L1879.9 389.4L1880.3 392.4L1880.7 395.4L1881.1 398.4L1881.5 401.4L1881.8 404.4L1882.2 407.3L1882.5 410.3L1882.8 413.3L1883.1 416.3L1883.5 419.3L1883.8 422.2L1884.1 425.2L1884.4 428.2L1884.7 431.2L1885.0 434.2L1885.3 437.1L1885.6 440.1L1885.9 443.1L1886.2 446.1L1886.5 449.0L1886.8 452.0L1887.1 455.0L1887.4 458.0L1887.8 461.0L1888.1 463.9L1888.4 466.9L1888.7 469.9L1889.1 472.9L1889.4 475.9L1889.7 478.9L1890.1 481.8L1890.4 484.8L1890.8 487.8L1891.1 490.8L1891.4 493.8L1891.8 496.8L1892.1 499.8L1892.5 502.7L1892.8 505.7L1893.1 508.7L1893.5 511.7L1893.8 514.7L1894.1 517.7L1894.4 520.7L1894.8 523.7L1895.1 526.6L1895.4 529.6L1895.7 532.6L1896.0 535.6L1896.3 538.6L1896.6 541.6L1897.0 544.6L1897.3 547.6L1897.6 550.6L1897.9 553.5L1898.2 556.5L1898.5 559.5L1898.8 562.5L1899.1 565.5L1899.4 568.5L1899.6 571.5L1899.9 574.5L1900.2 577.5L1900.5 580.4L1900.8 583.4L1901.1 586.4L1901.4 589.4L1901.7 592.4L1901.9 595.4L1902.2 598.4L1902.5 601.4L1902.8 604.4L1903.1 607.3L1903.4 610.3L1903.6 613.3L1903.9 616.3L1904.2 619.3L1904.5 622.3L1904.7 625.3L1905.0 628.3L1905.3 631.3L1905.6 634.3L1905.8 637.2L1906.1 640.2L1906.4 643.2L1906.7 646.2L1906.9 649.2L1907.2 652.2L1907.5 655.2L1907.8 658.2L1908.0 661.2L1908.3 664.2L1908.6 667.1L1908.9 670.1L1909.1 673.1L1909.4 676.1L1909.7 679.1L1910.0 682.1L1910.3 685.1L1910.5 688.1L1910.8 691.1L1911.1 694.0L1911.4 697.0L1911.7 700.0L1911.9 703.0L1912.2 706.0L1912.5 709.0L1912.8 712.0L1913.1 715.0L1913.4 718.0L1913.6 721.0L1913.9 723.9L1914.2 726.9L1914.5 729.9L1914.8 732.9L1915.1 735.9L1915.4 738.9L1915.7 741.9L1916.0 744.9L1916.3 747.8L1916.6 750.8L1916.9 753.8L1917.2 756.8L1917.5 759.8L1917.8 762.8L1918.1 765.8L1918.4 768.8L1918.7 771.7L1919.0 774.7L1919.3 777.7L1919.7 780.7L1920.0 783.7L1920.3 786.7L1920.6 789.6L1920.9 792.6L1921.3 795.6L1921.6 798.6L1921.9 801.6L1922.3 804.6L1922.6 807.5L1922.9 810.5L1923.3 813.5L1923.6 816.5L1924.0 819.5L1924.3 822.5L1924.7 825.4L1925.0 828.4L1925.4 831.4L1925.7 834.4L1926.1 837.4L1926.4 840.3L1926.8 843.3L1927.2 846.3L1927.5 849.3L1927.9 852.3L1928.3 855.2L1928.7 858.2L1929.1 861.2L1929.4 864.2L1929.8 867.1L1930.2 870.1L1930.6 873.1L1931.0 876.1L1931.4 879.0L1931.8 882.0L1932.2 885.0L1932.6 888.0L1933.1 890.9L1933.5 893.9L1933.9 896.9L1934.3 899.9L1934.8 902.8L1935.2 905.8L1935.6 908.8L1936.1 911.7L1936.5 914.7L1937.0 917.7L1937.4 920.6L1937.9 923.6L1938.3 926.6L1938.8 929.5L1939.3 932.5L1939.7 935.5L1940.2 938.4L1940.7 941.4L1941.2 944.4L1941.7 947.3L1942.2 950.3L1942.7 953.3L1943.2 956.2L1943.7 959.2L1944.2 962.1L1944.7 965.1L1945.2 968.1L1945.7 971.0L1946.2 974.0L1946.8 976.9L1947.3 979.9L1947.8 982.9L1948.4 985.8L1948.9 988.8L1949.5 991.7L1950.0 994.7L1950.6 997.6L1951.1 1000.6L1951.7 1003.5L1952.2 1006.5L1952.8 1009.4L1953.4 1012.4L1953.9 1015.3L1954.5 1018.3L1955.1 1021.2L1955.6 1024.2L1956.2 1027.1L1956.8 1030.1L1957.4 1033.0L1957.9 1036.0L1958.5 1038.9L1959.1 1041.9L1959.7 1044.8L1960.3 1047.8L1960.9 1050.7L1961.5 1053.6L1962.0 1056.6L1962.6 1059.5L1963.2 1062.5L1963.8 1065.4L1964.4 1068.4L1965.0 1071.3L1965.6 1074.2L1966.2 1077.2L1966.8 1080.1L1967.4 1083.0L1968.0 1086.0L1968.6 1088.9L1969.2 1091.8L1969.8 1094.8L1970.4 1097.7L1971.0 1100.6L1971.7 1103.6L1972.3 1106.5L1972.9 1109.4L1973.6 1112.3L1974.2 1115.3L1974.9 1118.2L1975.5 1121.1L1976.2 1124.0L1976.9 1126.9L1977.6 1129.8L1978.4 1132.7L1979.1 1135.6L1979.9 1138.5L1980.6 1141.4L1981.4 1144.3L1982.2 1147.2L1983.0 1150.1L1983.9 1153.0L1984.7 1155.8L1985.6 1158.7L1986.5 1161.6L1987.5 1164.4L1988.4 1167.3L1989.4 1170.2L1990.4 1173.0L1991.4 1175.9L1992.5 1178.7L1993.6 1181.5L1994.7 1184.4L1995.8 1187.2L1997.0 1190.0L1998.2 1192.8L1999.4 1195.6L2000.7 1198.4L2002.1 1201.1L2003.5 1203.8L2005.1 1206.4L2006.8 1208.8L2008.7 1211.0L2010.9 1213.0L2013.3 1214.7L2015.9 1216.1L2018.5 1216.9L2021.1 1217.0L2023.4 1216.1L2025.4 1214.4L2027.2 1212.0L2028.7 1209.1L2030.0 1205.9L2031.1 1202.8L2031.9 1199.7L2032.7 1196.8L2033.4 1193.9L2034.1 1191.0L2034.8 1188.1L2035.4 1185.1L2036.1 1182.2L2036.7 1179.3L2037.3 1176.4L2038.0 1173.5L2038.6 1170.5L2039.2 1167.6L2039.8 1164.7L2040.3 1161.8L2040.9 1158.8L2041.5 1155.9L2042.0 1152.9L2042.5 1150.0L2043.1 1147.1L2043.6 1144.1L2044.1 1141.2L2044.6 1138.2L2045.1 1135.3L2045.6 1132.3L2046.0 1129.4L2046.5 1126.4L2047.0 1123.5L2047.4 1120.5L2047.9 1117.5L2048.3 1114.6L2048.7 1111.6L2049.1 1108.6L2049.5 1105.7L2050.0 1102.7L2050.4 1099.7L2050.7 1096.8L2051.1 1093.8L2051.5 1090.8L2051.9 1087.8L2052.2 1084.9L2052.6 1081.9L2053.0 1078.9L2053.3 1075.9L2053.6 1072.9L2054.0 1069.9L2054.3 1067.0L2054.6 1064.0L2055.0 1061.0L2055.3 1058.0L2055.6 1055.0L2055.9 1052.0L2056.2 1049.0L2056.5 1046.1L2056.8 1043.1L2057.1 1040.1L2057.4 1037.1L2057.7 1034.1L2057.9 1031.1L2058.2 1028.1L2058.5 1025.1L2058.7 1022.1L2059.0 1019.1L2059.3 1016.1L2059.5 1013.1L2059.8 1010.1L2060.1 1007.1L2060.3 1004.1L2060.6 1001.1L2060.8 998.1L2061.1 995.1L2061.3 992.2L2061.6 989.2L2061.8 986.2L2062.0 983.2L2062.3 980.2L2062.5 977.2L2062.8 974.2L2063.0 971.2L2063.2 968.2L2063.5 965.2L2063.7 962.2L2064.0 959.2L2064.2 956.2L2064.4 953.2L2064.7 950.2L2064.9 947.2L2065.1 944.2L2065.4 941.2L2065.6 938.2L2065.8 935.2L2066.0 932.2L2066.3 929.2L2066.5 926.2L2066.7 923.3L2067.0 920.3L2067.2 917.3L2067.4 914.3L2067.6 911.3L2067.9 908.3L2068.1 905.3L2068.3 902.3L2068.6 899.3L2068.8 896.3L2069.0 893.3L2069.2 890.3L2069.5 887.3L2069.7 884.3L2069.9 881.3L2070.2 878.3L2070.4 875.4L2070.6 872.4L2070.9 869.4L2071.1 866.4L2071.3 863.4L2071.6 860.4L2071.8 857.4L2072.0 854.4L2072.3 851.4L2072.5 848.4L2072.7 845.4L2073.0 842.4L2073.2 839.5L2073.5 836.5L2073.7 833.5L2073.9 830.5L2074.2 827.5L2074.4 824.5L2074.7 821.5L2074.9 818.5L2075.2 815.5L2075.4 812.5L2075.7 809.5L2075.9 806.6L2076.2 803.6L2076.5 800.6L2076.7 797.6L2077.0 794.6L2077.2 791.6L2077.5 788.6L2077.8 785.6L2078.0 782.7L2078.3 779.7L2078.6 776.7L2078.9 773.7L2079.1 770.7L2079.4 767.7L2079.7 764.7L2080.0 761.8L2080.3 758.8L2080.6 755.8L2080.8 752.8L2081.1 749.8L2081.4 746.8L2081.7 743.8L2082.0 740.9L2082.3 737.9L2082.6 734.9L2083.0 731.9L2083.3 728.9L2083.6 725.9L2083.9 723.0L2084.2 720.0L2084.5 717.0L2084.9 714.0L2085.2 711.0L2085.5 708.0L2085.9 705.1L2086.2 702.1L2086.5 699.1L2086.9 696.1L2087.2 693.1L2087.6 690.2L2088.0 687.2L2088.3 684.2L2088.7 681.2L2089.1 678.3L2089.5 675.3L2089.9 672.3L2090.3 669.3L2090.7 666.4L2091.1 663.4L2091.6 660.4L2092.0 657.4L2092.5 654.5L2093.0 651.5L2093.5 648.5L2094.0 645.6L2094.5 642.6L2095.1 639.7L2095.6 636.7L2096.2 633.8L2096.8 630.8L2097.5 627.9L2098.1 624.9L2098.8 622.0L2099.5 619.0L2100.2 616.1L2101.1 613.2L2102.4 610.5L2104.6 608.2L2107.3 607.5L2109.7 609.3L2111.5 611.9L2112.7 614.7L2113.6 617.6L2114.5 620.5L2115.3 623.4L2116.1 626.3L2116.9 629.2L2117.6 632.1L2118.3 635.0L2119.0 637.9L2119.6 640.8L2120.2 643.8L2120.8 646.7L2121.3 649.6L2121.8 652.6L2122.3 655.5L2122.8 658.5L2123.3 661.5L2123.7 664.4L2124.1 667.4L2124.6 670.4L2124.9 673.4L2125.3 676.3L2125.7 679.3L2126.1 682.3L2126.4 685.3L2126.8 688.3L2127.1 691.3L2127.5 694.3L2127.8 697.3L2128.2 700.2L2128.5 703.2L2128.9 706.2L2129.2 709.2L2129.5 712.2L2129.9 715.2L2130.2 718.2L2130.6 721.2L2130.9 724.1L2131.3 727.1L2131.6 730.1L2132.0 733.1L2132.3 736.1L2132.7 739.1L2133.0 742.0L2133.3 745.0L2133.7 748.0L2134.0 751.0L2134.4 754.0L2134.7 757.0L2135.1 759.9L2135.4 762.9L2135.8 765.9L2136.1 768.9L2136.5 771.9L2136.8 774.9L2137.1 777.8L2137.5 780.8L2137.8 783.8L2138.2 786.8L2138.5 789.8L2138.8 792.7L2139.2 795.7L2139.5 798.7L2139.9 801.7L2140.2 804.7L2140.5 807.7L2140.9 810.6L2141.2 813.6L2141.6 816.6L2141.9 819.6L2142.2 822.6L2142.6 825.6L2142.9 828.5L2143.2 831.5L2143.5 834.5L2143.9 837.5L2144.2 840.5L2144.5 843.5L2144.9 846.4L2145.2 849.4L2145.5 852.4L2145.8 855.4L2146.2 858.4L2146.5 861.4L2146.8 864.3L2147.1 867.3L2147.5 870.3L2147.8 873.3L2148.1 876.3L2148.4 879.3L2148.8 882.2L2149.1 885.2L2149.4 888.2L2149.7 891.2L2150.1 894.2L2150.4 897.2L2150.7 900.2L2151.0 903.1L2151.4 906.1L2151.7 909.1L2152.0 912.1L2152.4 915.1L2152.7 918.1L2153.0 921.1L2153.3 924.0L2153.7 927.0L2154.0 930.0L2154.3 933.0L2154.7 936.0L2155.0 939.0L2155.4 941.9L2155.7 944.9L2156.0 947.9L2156.4 950.9L2156.7 953.9L2157.1 956.9L2157.4 959.8L2157.8 962.8L2158.1 965.8L2158.5 968.8L2158.8 971.8L2159.2 974.8L2159.5 977.7L2159.9 980.7L2160.3 983.7L2160.6 986.7L2161.0 989.7L2161.4 992.6L2161.7 995.6L2162.1 998.6L2162.5 1001.6L2162.9 1004.6L2163.3 1007.5L2163.6 1010.5L2164.0 1013.5L2164.4 1016.5L2164.8 1019.4L2165.2 1022.4L2165.6 1025.4L2166.0 1028.4L2166.4 1031.3L2166.8 1034.3L2167.2 1037.3L2167.6 1040.3L2168.1 1043.2L2168.5 1046.2L2168.9 1049.2L2169.3 1052.2L2169.8 1055.1L2170.2 1058.1L2170.6 1061.1L2171.1 1064.1L2171.5 1067.0L2172.0 1070.0L2172.4 1073.0L2172.9 1075.9L2173.4 1078.9L2173.8 1081.9L2174.3 1084.8L2174.8 1087.8L2175.3 1090.8L2175.7 1093.7L2176.2 1096.7L2176.7 1099.7L2177.2 1102.6L2177.7 1105.6L2178.2 1108.5L2178.8 1111.5L2179.3 1114.5L2179.8 1117.4L2180.4 1120.4L2180.9 1123.3L2181.4 1126.3L2182.0 1129.2L2182.6 1132.2L2183.1 1135.1L2183.7 1138.1L2184.3 1141.0L2184.9 1144.0L2185.5 1146.9L2186.1 1149.8L2186.7 1152.8L2187.4 1155.7L2188.0 1158.6L2188.7 1161.6L2189.3 1164.5L2190.0 1167.4L2190.7 1170.3L2191.3 1173.2L2192.0 1176.2L2192.7 1179.1L2193.5 1182.0L2194.2 1184.9L2194.9 1187.8L2195.7 1190.7L2196.4 1193.6L2197.2 1196.5L2198.0 1199.4L2198.8 1202.3L2199.6 1205.2L2200.4 1208.1L2201.3 1210.9L2202.1 1213.8L2203.0 1216.7L2203.8 1219.5L2204.7 1222.4L2205.6 1225.3L2206.5 1228.1L2207.4 1231.0L2208.4 1233.8L2209.3 1236.7L2210.3 1239.5L2211.3 1242.4L2212.3 1245.2L2213.3 1248.0L2214.3 1250.8L2215.4 1253.7L2216.4 1256.5L2217.5 1259.3L2218.6 1262.1L2219.7 1264.9L2220.9 1267.6L2222.0 1270.4L2223.2 1273.2L2224.4 1275.9L2225.7 1278.6L2227.0 1281.4L2228.2 1284.1L2229.6 1286.8L2230.9 1289.4L2232.3 1292.1L2233.7 1294.7L2235.2 1297.4L2236.7 1300.0L2238.2 1302.6L2239.8 1305.1L2241.4 1307.7L2243.0 1310.2L2244.7 1312.7L2246.4 1315.2L2248.1 1317.7L2249.9 1320.1L2251.8 1322.5L2253.7 1324.9L2255.6 1327.2L2257.6 1329.6L2259.6 1331.9L2261.7 1334.1L2263.8 1336.3L2266.0 1338.5L2268.2 1340.6L2270.5 1342.6L2272.8 1344.6L2275.1 1346.5L2277.5 1348.3L2279.9 1350.0L2282.4 1351.7L2285.0 1353.2L2287.5 1354.7L2290.2 1356.0L2292.8 1357.2L2295.5 1358.3L2298.3 1359.2L2301.1 1360.0L2303.9 1360.7L2306.8 1361.3L2309.8 1361.6L2312.7 1361.9L2315.8 1361.9L2318.8 1361.9L2321.9 1361.7L2325.0 1361.5L2328.1 1361.2L2331.2 1360.9L2334.2 1360.6L2337.3 1360.3L2340.3 1360.1L2343.3 1359.9L2346.3 1359.9L2349.2 1360.0L2352.0 1360.3" stroke="#c88cb9"/>
</g>
<line x1="372.0" y1="25.3" x2="2352.5" y2="25.3" stroke="#1a1a1a" stroke-width="1.3"/>
<g stroke="#080a05" stroke-width="6.1" fill="none" stroke-linecap="butt">
<line x1="372.0" y1="23.5" x2="372.0" y2="1481.8"/>
<line x1="368.9" y1="1478.7" x2="2354.0" y2="1478.7"/>
<line x1="341.5" y1="1461.2" x2="372.0" y2="1461.2"/>
<line x1="355.5" y1="1387.7" x2="372.0" y2="1387.7"/>
<line x1="341.5" y1="1314.3" x2="372.0" y2="1314.3"/>
<line x1="355.5" y1="1240.8" x2="372.0" y2="1240.8"/>
<line x1="341.5" y1="1167.4" x2="372.0" y2="1167.4"/>
<line x1="355.5" y1="1093.9" x2="372.0" y2="1093.9"/>
<line x1="341.5" y1="1020.4" x2="372.0" y2="1020.4"/>
<line x1="355.5" y1="947.0" x2="372.0" y2="947.0"/>
<line x1="341.5" y1="873.5" x2="372.0" y2="873.5"/>
<line x1="355.5" y1="800.1" x2="372.0" y2="800.1"/>
<line x1="341.5" y1="726.6" x2="372.0" y2="726.6"/>
<line x1="355.5" y1="653.1" x2="372.0" y2="653.1"/>
<line x1="341.5" y1="579.7" x2="372.0" y2="579.7"/>
<line x1="355.5" y1="506.2" x2="372.0" y2="506.2"/>
<line x1="341.5" y1="432.8" x2="372.0" y2="432.8"/>
<line x1="355.5" y1="359.3" x2="372.0" y2="359.3"/>
<line x1="341.5" y1="285.8" x2="372.0" y2="285.8"/>
<line x1="355.5" y1="212.4" x2="372.0" y2="212.4"/>
<line x1="341.5" y1="138.9" x2="372.0" y2="138.9"/>
<line x1="355.5" y1="65.5" x2="372.0" y2="65.5"/>
<line x1="490.1" y1="1478.7" x2="490.1" y2="1496.8"/>
<line x1="688.0" y1="1478.7" x2="688.0" y2="1512.2"/>
<line x1="885.9" y1="1478.7" x2="885.9" y2="1496.8"/>
<line x1="1083.7" y1="1478.7" x2="1083.7" y2="1512.2"/>
<line x1="1281.5" y1="1478.7" x2="1281.5" y2="1496.8"/>
<line x1="1479.4" y1="1478.7" x2="1479.4" y2="1512.2"/>
<line x1="1677.2" y1="1478.7" x2="1677.2" y2="1496.8"/>
<line x1="1875.1" y1="1478.7" x2="1875.1" y2="1512.2"/>
<line x1="2072.9" y1="1478.7" x2="2072.9" y2="1496.8"/>
<line x1="2270.8" y1="1478.7" x2="2270.8" y2="1512.2"/>
</g>
<g font-family="'Liberation Sans', Arial, sans-serif" font-size="65.5" fill="#080a05" text-anchor="end">
<text transform="translate(322.3 1476.8) scale(0.966 1)">0.00</text>
<text transform="translate(322.3 1329.9) scale(0.966 1)">0.02</text>
<text transform="translate(322.3 1183.0) scale(0.966 1)">0.04</text>
<text transform="translate(322.3 1036.0) scale(0.966 1)">0.06</text>
<text transform="translate(322.3 889.1) scale(0.966 1)">0.08</text>
<text transform="translate(322.3 742.2) scale(0.966 1)">0.10</text>
<text transform="translate(322.3 595.3) scale(0.966 1)">0.12</text>
<text transform="translate(322.3 448.4) scale(0.966 1)">0.14</text>
<text transform="translate(322.3 301.4) scale(0.966 1)">0.16</text>
<text transform="translate(322.3 154.5) scale(0.966 1)">0.18</text>
</g>
<g font-family="'Liberation Sans', Arial, sans-serif" font-size="65.5" fill="#080a05" text-anchor="middle">
<text transform="translate(687.7 1579.7) scale(0.966 1)">1750</text>
<text transform="translate(1083.4 1579.7) scale(0.966 1)">1700</text>
<text transform="translate(1479.1 1579.7) scale(0.966 1)">1650</text>
<text transform="translate(1874.8 1579.7) scale(0.966 1)">1600</text>
<text transform="translate(2270.5 1579.7) scale(0.966 1)">1550</text>
</g>
<text transform="translate(80.5 1053.5) rotate(-90)" font-family="'Liberation Sans', Arial, sans-serif" font-size="78.5" fill="#080a05">Absorbance (a.u.)</text>
<text transform="translate(1234.3 1715.3) scale(1.13 1)" font-family="'Liberation Serif', 'DejaVu Serif', serif" font-size="77" fill="#080a05">ν</text>
<text x="1293" y="1715" font-family="'Liberation Serif', 'DejaVu Serif', serif" font-size="79" fill="#080a05">(</text>
<text x="1318.5" y="1715.6" font-family="'Liberation Sans', Arial, sans-serif" font-size="79.8" fill="#080a05">cm</text>
<text x="1423.5" y="1676.6" font-family="'Liberation Sans', Arial, sans-serif" font-size="48.5" fill="#080a05">-1</text>
<text x="1467" y="1715" font-family="'Liberation Serif', 'DejaVu Serif', serif" font-size="79" fill="#080a05">)</text>
<rect x="1706.9" y="40.2" width="1631" height="259" fill="none"/>
<rect x="1707" y="40.3" width="631.2" height="259.2" fill="#fefbfa" stroke="#080a05" stroke-width="2.4"/>
<line x1="1759.5" y1="99.3" x2="1855.5" y2="99.3" stroke="#080a05" stroke-width="11.2" stroke-linecap="round"/>
<text x="1866.5" y="112.6" font-family="'Liberation Sans', Arial, sans-serif" font-size="43.1" fill="#080a05">A + 0 mol.dm<tspan font-size="26" dy="-20">-3</tspan><tspan dy="20"> TBAF</tspan></text>
<line x1="1759.5" y1="157.5" x2="1855.5" y2="157.5" stroke="#ff4423" stroke-width="11.2" stroke-linecap="round"/>
<text x="1866.5" y="170.8" font-family="'Liberation Sans', Arial, sans-serif" font-size="43.1" fill="#080a05">A + 10<tspan font-size="26" dy="-20">-4</tspan><tspan dy="20"> mol.dm</tspan><tspan font-size="26" dy="-20">-3</tspan><tspan dy="20"> TBAF</tspan></text>
<line x1="1759.5" y1="215.8" x2="1855.5" y2="215.8" stroke="#2d3d87" stroke-width="11.2" stroke-linecap="round"/>
<text x="1866.5" y="229.1" font-family="'Liberation Sans', Arial, sans-serif" font-size="43.1" fill="#080a05">A + 10<tspan font-size="26" dy="-20">-2</tspan><tspan dy="20"> mol.dm</tspan><tspan font-size="26" dy="-20">-3</tspan><tspan dy="20"> TBAF</tspan></text>
<line x1="1759.5" y1="274.1" x2="1855.5" y2="274.1" stroke="#c88cb9" stroke-width="11.2" stroke-linecap="round"/>
<text x="1866.5" y="287.4" font-family="'Liberation Sans', Arial, sans-serif" font-size="43.1" fill="#080a05">A + 10<tspan font-size="26" dy="-20">-1</tspan><tspan dy="20"> mol.dm</tspan><tspan font-size="26" dy="-20">-3</tspan><tspan dy="20"> TBAF</tspan></text>
</svg>
</body>
</html>
